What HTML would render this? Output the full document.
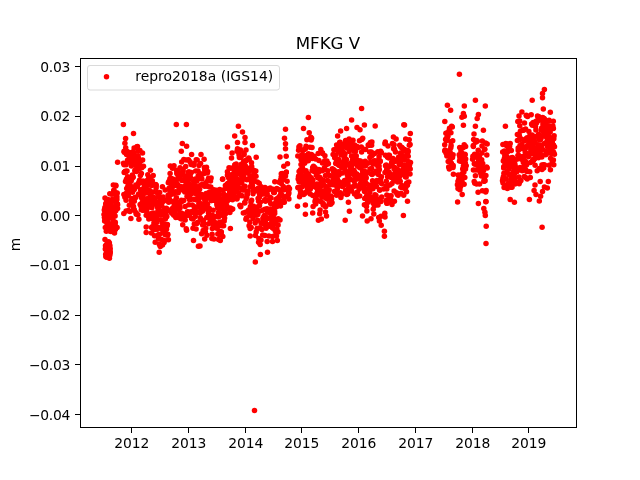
<!DOCTYPE html>
<html><head><meta charset="utf-8"><title>MFKG V</title>
<style>
html,body{margin:0;padding:0;background:#fff;}
svg{display:block;}
text{font-family:"DejaVu Sans","Liberation Sans",sans-serif;fill:#000;}
.tl{font-size:13.89px;}
.ax{stroke:#000;stroke-width:1;shape-rendering:crispEdges;}
</style></head><body>
<svg width="640" height="480" viewBox="0 0 640 480">
<rect width="640" height="480" fill="#fff"/>
<g fill="#ff0000"><circle cx="104.0" cy="214.5" r="2.75"/><circle cx="104.5" cy="217.7" r="2.75"/><circle cx="104.3" cy="210.1" r="2.75"/><circle cx="104.6" cy="217.2" r="2.75"/><circle cx="105.0" cy="198.1" r="2.75"/><circle cx="104.6" cy="221.1" r="2.75"/><circle cx="105.1" cy="211.5" r="2.75"/><circle cx="104.9" cy="207.6" r="2.75"/><circle cx="105.3" cy="227.5" r="2.75"/><circle cx="105.4" cy="210.6" r="2.75"/><circle cx="105.7" cy="203.9" r="2.75"/><circle cx="105.8" cy="218.0" r="2.75"/><circle cx="105.7" cy="220.0" r="2.75"/><circle cx="106.3" cy="202.8" r="2.75"/><circle cx="106.3" cy="231.2" r="2.75"/><circle cx="106.4" cy="217.3" r="2.75"/><circle cx="106.8" cy="200.2" r="2.75"/><circle cx="106.9" cy="222.7" r="2.75"/><circle cx="107.1" cy="229.2" r="2.75"/><circle cx="106.8" cy="212.8" r="2.75"/><circle cx="107.4" cy="219.2" r="2.75"/><circle cx="107.2" cy="215.1" r="2.75"/><circle cx="107.4" cy="230.3" r="2.75"/><circle cx="107.3" cy="225.2" r="2.75"/><circle cx="108.0" cy="199.6" r="2.75"/><circle cx="108.1" cy="215.8" r="2.75"/><circle cx="108.0" cy="217.0" r="2.75"/><circle cx="108.0" cy="222.6" r="2.75"/><circle cx="108.5" cy="225.0" r="2.75"/><circle cx="108.2" cy="227.5" r="2.75"/><circle cx="108.8" cy="212.9" r="2.75"/><circle cx="108.6" cy="208.4" r="2.75"/><circle cx="108.9" cy="204.2" r="2.75"/><circle cx="109.4" cy="228.6" r="2.75"/><circle cx="109.4" cy="212.0" r="2.75"/><circle cx="109.3" cy="230.0" r="2.75"/><circle cx="109.6" cy="210.6" r="2.75"/><circle cx="109.8" cy="226.8" r="2.75"/><circle cx="109.7" cy="230.9" r="2.75"/><circle cx="109.8" cy="193.7" r="2.75"/><circle cx="110.1" cy="217.4" r="2.75"/><circle cx="110.6" cy="205.5" r="2.75"/><circle cx="110.3" cy="214.0" r="2.75"/><circle cx="110.8" cy="224.7" r="2.75"/><circle cx="110.9" cy="231.4" r="2.75"/><circle cx="110.6" cy="206.5" r="2.75"/><circle cx="110.9" cy="201.6" r="2.75"/><circle cx="111.3" cy="205.6" r="2.75"/><circle cx="111.2" cy="210.8" r="2.75"/><circle cx="111.6" cy="224.0" r="2.75"/><circle cx="111.4" cy="215.8" r="2.75"/><circle cx="111.5" cy="231.0" r="2.75"/><circle cx="112.0" cy="194.3" r="2.75"/><circle cx="112.3" cy="228.9" r="2.75"/><circle cx="112.1" cy="212.5" r="2.75"/><circle cx="112.2" cy="199.4" r="2.75"/><circle cx="112.7" cy="217.0" r="2.75"/><circle cx="112.9" cy="200.2" r="2.75"/><circle cx="112.7" cy="218.7" r="2.75"/><circle cx="112.9" cy="210.3" r="2.75"/><circle cx="113.1" cy="221.1" r="2.75"/><circle cx="113.2" cy="226.3" r="2.75"/><circle cx="113.3" cy="185.0" r="2.75"/><circle cx="113.8" cy="190.7" r="2.75"/><circle cx="113.9" cy="190.2" r="2.75"/><circle cx="113.6" cy="192.6" r="2.75"/><circle cx="114.2" cy="200.9" r="2.75"/><circle cx="114.4" cy="206.9" r="2.75"/><circle cx="114.5" cy="233.1" r="2.75"/><circle cx="114.4" cy="214.9" r="2.75"/><circle cx="114.5" cy="210.7" r="2.75"/><circle cx="115.0" cy="225.5" r="2.75"/><circle cx="115.0" cy="224.0" r="2.75"/><circle cx="115.3" cy="222.2" r="2.75"/><circle cx="115.1" cy="215.9" r="2.75"/><circle cx="115.4" cy="229.4" r="2.75"/><circle cx="115.8" cy="185.2" r="2.75"/><circle cx="115.8" cy="210.8" r="2.75"/><circle cx="115.8" cy="202.7" r="2.75"/><circle cx="115.8" cy="185.9" r="2.75"/><circle cx="115.9" cy="196.9" r="2.75"/><circle cx="116.3" cy="202.7" r="2.75"/><circle cx="116.7" cy="193.3" r="2.75"/><circle cx="116.6" cy="203.3" r="2.75"/><circle cx="116.9" cy="196.7" r="2.75"/><circle cx="117.1" cy="227.6" r="2.75"/><circle cx="116.9" cy="199.6" r="2.75"/><circle cx="117.0" cy="204.0" r="2.75"/><circle cx="117.2" cy="193.1" r="2.75"/><circle cx="117.4" cy="204.0" r="2.75"/><circle cx="117.6" cy="204.7" r="2.75"/><circle cx="117.6" cy="208.5" r="2.75"/><circle cx="105.0" cy="239.6" r="2.75"/><circle cx="105.3" cy="249.1" r="2.75"/><circle cx="105.5" cy="245.8" r="2.75"/><circle cx="105.8" cy="248.4" r="2.75"/><circle cx="105.8" cy="249.6" r="2.75"/><circle cx="105.7" cy="254.2" r="2.75"/><circle cx="106.2" cy="247.1" r="2.75"/><circle cx="105.9" cy="256.6" r="2.75"/><circle cx="106.3" cy="257.1" r="2.75"/><circle cx="106.5" cy="254.3" r="2.75"/><circle cx="106.5" cy="244.5" r="2.75"/><circle cx="106.8" cy="255.5" r="2.75"/><circle cx="106.5" cy="247.6" r="2.75"/><circle cx="106.9" cy="257.0" r="2.75"/><circle cx="107.2" cy="247.2" r="2.75"/><circle cx="107.5" cy="250.6" r="2.75"/><circle cx="107.4" cy="251.3" r="2.75"/><circle cx="107.3" cy="244.1" r="2.75"/><circle cx="107.8" cy="248.2" r="2.75"/><circle cx="107.7" cy="253.1" r="2.75"/><circle cx="108.0" cy="250.9" r="2.75"/><circle cx="108.2" cy="248.3" r="2.75"/><circle cx="108.2" cy="253.5" r="2.75"/><circle cx="108.5" cy="248.8" r="2.75"/><circle cx="108.1" cy="252.7" r="2.75"/><circle cx="108.6" cy="241.7" r="2.75"/><circle cx="108.6" cy="250.8" r="2.75"/><circle cx="108.8" cy="245.4" r="2.75"/><circle cx="108.9" cy="248.1" r="2.75"/><circle cx="109.0" cy="250.2" r="2.75"/><circle cx="109.4" cy="258.2" r="2.75"/><circle cx="109.4" cy="242.9" r="2.75"/><circle cx="109.7" cy="254.7" r="2.75"/><circle cx="109.6" cy="255.7" r="2.75"/><circle cx="109.9" cy="245.8" r="2.75"/><circle cx="110.1" cy="253.1" r="2.75"/><circle cx="109.9" cy="252.2" r="2.75"/><circle cx="110.1" cy="251.4" r="2.75"/><circle cx="110.2" cy="248.8" r="2.75"/><circle cx="123.5" cy="163.3" r="2.75"/><circle cx="123.9" cy="194.6" r="2.75"/><circle cx="124.1" cy="164.7" r="2.75"/><circle cx="124.2" cy="172.5" r="2.75"/><circle cx="124.1" cy="151.2" r="2.75"/><circle cx="124.4" cy="152.3" r="2.75"/><circle cx="124.4" cy="152.0" r="2.75"/><circle cx="124.6" cy="171.9" r="2.75"/><circle cx="124.9" cy="143.3" r="2.75"/><circle cx="124.9" cy="197.3" r="2.75"/><circle cx="125.4" cy="171.3" r="2.75"/><circle cx="125.5" cy="172.0" r="2.75"/><circle cx="125.7" cy="147.8" r="2.75"/><circle cx="125.5" cy="181.5" r="2.75"/><circle cx="126.1" cy="200.3" r="2.75"/><circle cx="126.1" cy="164.7" r="2.75"/><circle cx="126.1" cy="211.0" r="2.75"/><circle cx="126.5" cy="192.9" r="2.75"/><circle cx="126.4" cy="179.2" r="2.75"/><circle cx="126.5" cy="154.5" r="2.75"/><circle cx="127.0" cy="170.9" r="2.75"/><circle cx="126.7" cy="188.4" r="2.75"/><circle cx="127.3" cy="151.4" r="2.75"/><circle cx="127.5" cy="160.3" r="2.75"/><circle cx="127.6" cy="176.7" r="2.75"/><circle cx="127.6" cy="187.8" r="2.75"/><circle cx="127.9" cy="160.7" r="2.75"/><circle cx="127.9" cy="186.3" r="2.75"/><circle cx="128.2" cy="195.7" r="2.75"/><circle cx="128.3" cy="193.4" r="2.75"/><circle cx="128.5" cy="210.6" r="2.75"/><circle cx="128.5" cy="183.9" r="2.75"/><circle cx="128.6" cy="161.9" r="2.75"/><circle cx="128.7" cy="160.7" r="2.75"/><circle cx="129.2" cy="156.7" r="2.75"/><circle cx="129.2" cy="182.6" r="2.75"/><circle cx="129.3" cy="205.2" r="2.75"/><circle cx="129.7" cy="184.3" r="2.75"/><circle cx="129.6" cy="179.1" r="2.75"/><circle cx="130.0" cy="160.6" r="2.75"/><circle cx="129.9" cy="211.4" r="2.75"/><circle cx="129.9" cy="152.7" r="2.75"/><circle cx="130.4" cy="160.1" r="2.75"/><circle cx="130.5" cy="177.2" r="2.75"/><circle cx="130.6" cy="191.6" r="2.75"/><circle cx="130.9" cy="186.4" r="2.75"/><circle cx="130.9" cy="218.6" r="2.75"/><circle cx="131.2" cy="180.9" r="2.75"/><circle cx="131.5" cy="200.8" r="2.75"/><circle cx="131.6" cy="154.6" r="2.75"/><circle cx="131.4" cy="166.0" r="2.75"/><circle cx="131.5" cy="163.5" r="2.75"/><circle cx="131.6" cy="202.2" r="2.75"/><circle cx="131.8" cy="178.7" r="2.75"/><circle cx="131.9" cy="198.4" r="2.75"/><circle cx="132.4" cy="175.1" r="2.75"/><circle cx="132.4" cy="152.5" r="2.75"/><circle cx="132.6" cy="151.9" r="2.75"/><circle cx="132.5" cy="192.3" r="2.75"/><circle cx="132.9" cy="177.1" r="2.75"/><circle cx="133.4" cy="206.2" r="2.75"/><circle cx="133.1" cy="177.2" r="2.75"/><circle cx="133.2" cy="156.8" r="2.75"/><circle cx="133.9" cy="152.4" r="2.75"/><circle cx="133.5" cy="207.7" r="2.75"/><circle cx="133.6" cy="210.0" r="2.75"/><circle cx="134.1" cy="148.0" r="2.75"/><circle cx="134.3" cy="189.4" r="2.75"/><circle cx="134.3" cy="201.2" r="2.75"/><circle cx="134.4" cy="210.0" r="2.75"/><circle cx="134.6" cy="161.0" r="2.75"/><circle cx="135.0" cy="170.2" r="2.75"/><circle cx="135.0" cy="171.0" r="2.75"/><circle cx="135.2" cy="197.2" r="2.75"/><circle cx="135.2" cy="187.2" r="2.75"/><circle cx="135.4" cy="197.8" r="2.75"/><circle cx="135.4" cy="155.7" r="2.75"/><circle cx="135.9" cy="165.3" r="2.75"/><circle cx="135.8" cy="184.9" r="2.75"/><circle cx="135.9" cy="159.8" r="2.75"/><circle cx="136.1" cy="212.8" r="2.75"/><circle cx="136.3" cy="214.3" r="2.75"/><circle cx="136.3" cy="171.5" r="2.75"/><circle cx="136.7" cy="170.6" r="2.75"/><circle cx="136.9" cy="146.8" r="2.75"/><circle cx="136.8" cy="167.9" r="2.75"/><circle cx="137.1" cy="170.5" r="2.75"/><circle cx="137.7" cy="161.8" r="2.75"/><circle cx="137.4" cy="186.2" r="2.75"/><circle cx="137.5" cy="146.4" r="2.75"/><circle cx="138.1" cy="155.7" r="2.75"/><circle cx="138.2" cy="150.9" r="2.75"/><circle cx="137.9" cy="214.7" r="2.75"/><circle cx="138.5" cy="194.6" r="2.75"/><circle cx="138.7" cy="182.8" r="2.75"/><circle cx="138.8" cy="194.0" r="2.75"/><circle cx="138.5" cy="158.3" r="2.75"/><circle cx="138.9" cy="219.3" r="2.75"/><circle cx="139.1" cy="182.9" r="2.75"/><circle cx="139.5" cy="180.2" r="2.75"/><circle cx="139.7" cy="166.3" r="2.75"/><circle cx="139.9" cy="150.4" r="2.75"/><circle cx="139.8" cy="182.3" r="2.75"/><circle cx="139.7" cy="168.5" r="2.75"/><circle cx="140.1" cy="204.4" r="2.75"/><circle cx="140.4" cy="161.6" r="2.75"/><circle cx="140.4" cy="175.5" r="2.75"/><circle cx="140.5" cy="189.8" r="2.75"/><circle cx="140.4" cy="165.9" r="2.75"/><circle cx="140.7" cy="182.8" r="2.75"/><circle cx="141.3" cy="209.7" r="2.75"/><circle cx="141.1" cy="206.6" r="2.75"/><circle cx="141.2" cy="197.5" r="2.75"/><circle cx="141.7" cy="195.1" r="2.75"/><circle cx="141.4" cy="173.5" r="2.75"/><circle cx="142.1" cy="194.8" r="2.75"/><circle cx="141.8" cy="167.7" r="2.75"/><circle cx="142.4" cy="207.6" r="2.75"/><circle cx="142.3" cy="202.0" r="2.75"/><circle cx="142.6" cy="160.1" r="2.75"/><circle cx="142.5" cy="153.0" r="2.75"/><circle cx="142.7" cy="189.6" r="2.75"/><circle cx="142.8" cy="194.9" r="2.75"/><circle cx="142.9" cy="210.3" r="2.75"/><circle cx="143.2" cy="210.1" r="2.75"/><circle cx="143.1" cy="180.9" r="2.75"/><circle cx="143.4" cy="192.7" r="2.75"/><circle cx="143.5" cy="166.2" r="2.75"/><circle cx="143.8" cy="193.1" r="2.75"/><circle cx="144.1" cy="198.9" r="2.75"/><circle cx="144.1" cy="187.6" r="2.75"/><circle cx="144.1" cy="189.8" r="2.75"/><circle cx="144.3" cy="203.2" r="2.75"/><circle cx="144.6" cy="185.5" r="2.75"/><circle cx="144.9" cy="198.9" r="2.75"/><circle cx="144.9" cy="209.5" r="2.75"/><circle cx="145.2" cy="207.7" r="2.75"/><circle cx="145.0" cy="206.0" r="2.75"/><circle cx="145.4" cy="182.2" r="2.75"/><circle cx="145.5" cy="201.0" r="2.75"/><circle cx="146.0" cy="207.3" r="2.75"/><circle cx="145.8" cy="193.0" r="2.75"/><circle cx="146.2" cy="215.3" r="2.75"/><circle cx="146.5" cy="199.4" r="2.75"/><circle cx="146.4" cy="209.3" r="2.75"/><circle cx="146.6" cy="182.1" r="2.75"/><circle cx="146.8" cy="185.8" r="2.75"/><circle cx="146.6" cy="211.1" r="2.75"/><circle cx="147.2" cy="199.9" r="2.75"/><circle cx="147.0" cy="208.6" r="2.75"/><circle cx="147.4" cy="202.0" r="2.75"/><circle cx="147.4" cy="180.3" r="2.75"/><circle cx="147.8" cy="198.4" r="2.75"/><circle cx="147.8" cy="174.8" r="2.75"/><circle cx="147.9" cy="190.5" r="2.75"/><circle cx="148.4" cy="215.6" r="2.75"/><circle cx="148.5" cy="204.7" r="2.75"/><circle cx="148.4" cy="216.2" r="2.75"/><circle cx="148.8" cy="178.1" r="2.75"/><circle cx="148.8" cy="219.1" r="2.75"/><circle cx="149.2" cy="189.9" r="2.75"/><circle cx="149.3" cy="178.8" r="2.75"/><circle cx="149.1" cy="199.8" r="2.75"/><circle cx="149.6" cy="206.8" r="2.75"/><circle cx="149.8" cy="199.9" r="2.75"/><circle cx="149.6" cy="184.8" r="2.75"/><circle cx="150.1" cy="191.6" r="2.75"/><circle cx="150.1" cy="177.5" r="2.75"/><circle cx="150.4" cy="195.5" r="2.75"/><circle cx="150.6" cy="195.3" r="2.75"/><circle cx="150.7" cy="213.8" r="2.75"/><circle cx="150.9" cy="194.6" r="2.75"/><circle cx="150.6" cy="216.0" r="2.75"/><circle cx="151.0" cy="181.2" r="2.75"/><circle cx="151.4" cy="232.9" r="2.75"/><circle cx="151.5" cy="181.8" r="2.75"/><circle cx="151.5" cy="227.4" r="2.75"/><circle cx="151.4" cy="199.2" r="2.75"/><circle cx="151.9" cy="205.2" r="2.75"/><circle cx="151.8" cy="185.4" r="2.75"/><circle cx="151.8" cy="207.7" r="2.75"/><circle cx="152.3" cy="200.5" r="2.75"/><circle cx="152.3" cy="226.8" r="2.75"/><circle cx="152.3" cy="180.8" r="2.75"/><circle cx="152.7" cy="204.6" r="2.75"/><circle cx="152.8" cy="218.8" r="2.75"/><circle cx="152.9" cy="202.4" r="2.75"/><circle cx="153.0" cy="191.9" r="2.75"/><circle cx="153.5" cy="229.8" r="2.75"/><circle cx="153.4" cy="213.0" r="2.75"/><circle cx="153.9" cy="218.8" r="2.75"/><circle cx="154.0" cy="198.4" r="2.75"/><circle cx="154.1" cy="197.4" r="2.75"/><circle cx="153.9" cy="223.0" r="2.75"/><circle cx="154.4" cy="199.9" r="2.75"/><circle cx="154.5" cy="235.7" r="2.75"/><circle cx="154.4" cy="214.0" r="2.75"/><circle cx="154.7" cy="227.3" r="2.75"/><circle cx="155.2" cy="242.2" r="2.75"/><circle cx="154.9" cy="229.6" r="2.75"/><circle cx="155.2" cy="200.8" r="2.75"/><circle cx="155.5" cy="215.9" r="2.75"/><circle cx="155.6" cy="184.5" r="2.75"/><circle cx="155.7" cy="216.4" r="2.75"/><circle cx="156.0" cy="185.8" r="2.75"/><circle cx="156.1" cy="188.1" r="2.75"/><circle cx="156.1" cy="185.1" r="2.75"/><circle cx="156.2" cy="202.6" r="2.75"/><circle cx="156.7" cy="192.6" r="2.75"/><circle cx="156.5" cy="222.4" r="2.75"/><circle cx="156.7" cy="216.4" r="2.75"/><circle cx="157.2" cy="206.8" r="2.75"/><circle cx="157.0" cy="219.1" r="2.75"/><circle cx="157.2" cy="203.9" r="2.75"/><circle cx="157.4" cy="229.3" r="2.75"/><circle cx="157.7" cy="227.2" r="2.75"/><circle cx="157.9" cy="210.7" r="2.75"/><circle cx="157.8" cy="214.9" r="2.75"/><circle cx="158.3" cy="207.2" r="2.75"/><circle cx="158.4" cy="238.7" r="2.75"/><circle cx="158.3" cy="234.8" r="2.75"/><circle cx="158.4" cy="196.8" r="2.75"/><circle cx="158.7" cy="209.1" r="2.75"/><circle cx="159.2" cy="244.0" r="2.75"/><circle cx="159.0" cy="196.2" r="2.75"/><circle cx="159.4" cy="234.5" r="2.75"/><circle cx="159.2" cy="252.3" r="2.75"/><circle cx="159.4" cy="205.3" r="2.75"/><circle cx="159.9" cy="200.2" r="2.75"/><circle cx="159.9" cy="204.5" r="2.75"/><circle cx="159.7" cy="192.4" r="2.75"/><circle cx="160.1" cy="245.3" r="2.75"/><circle cx="160.3" cy="212.0" r="2.75"/><circle cx="160.3" cy="246.6" r="2.75"/><circle cx="160.6" cy="227.8" r="2.75"/><circle cx="160.9" cy="219.8" r="2.75"/><circle cx="161.0" cy="201.4" r="2.75"/><circle cx="161.1" cy="211.9" r="2.75"/><circle cx="161.1" cy="198.6" r="2.75"/><circle cx="161.5" cy="200.0" r="2.75"/><circle cx="161.4" cy="214.4" r="2.75"/><circle cx="161.6" cy="239.4" r="2.75"/><circle cx="162.0" cy="222.8" r="2.75"/><circle cx="161.9" cy="206.1" r="2.75"/><circle cx="161.9" cy="212.2" r="2.75"/><circle cx="162.4" cy="229.8" r="2.75"/><circle cx="162.7" cy="226.9" r="2.75"/><circle cx="162.4" cy="186.8" r="2.75"/><circle cx="162.5" cy="244.9" r="2.75"/><circle cx="162.7" cy="211.0" r="2.75"/><circle cx="163.1" cy="197.1" r="2.75"/><circle cx="163.4" cy="232.2" r="2.75"/><circle cx="163.2" cy="201.4" r="2.75"/><circle cx="163.5" cy="212.7" r="2.75"/><circle cx="163.5" cy="225.3" r="2.75"/><circle cx="163.8" cy="215.3" r="2.75"/><circle cx="164.3" cy="240.6" r="2.75"/><circle cx="164.1" cy="242.4" r="2.75"/><circle cx="164.6" cy="230.8" r="2.75"/><circle cx="164.4" cy="224.1" r="2.75"/><circle cx="164.9" cy="234.4" r="2.75"/><circle cx="164.8" cy="209.8" r="2.75"/><circle cx="165.2" cy="232.8" r="2.75"/><circle cx="164.9" cy="208.8" r="2.75"/><circle cx="165.2" cy="190.0" r="2.75"/><circle cx="165.3" cy="218.9" r="2.75"/><circle cx="165.7" cy="215.4" r="2.75"/><circle cx="165.8" cy="217.4" r="2.75"/><circle cx="165.9" cy="208.7" r="2.75"/><circle cx="166.0" cy="213.0" r="2.75"/><circle cx="166.4" cy="208.3" r="2.75"/><circle cx="166.4" cy="235.0" r="2.75"/><circle cx="166.8" cy="216.4" r="2.75"/><circle cx="166.5" cy="229.2" r="2.75"/><circle cx="166.7" cy="200.2" r="2.75"/><circle cx="167.2" cy="225.7" r="2.75"/><circle cx="167.4" cy="224.6" r="2.75"/><circle cx="167.4" cy="200.5" r="2.75"/><circle cx="167.6" cy="234.9" r="2.75"/><circle cx="167.8" cy="234.3" r="2.75"/><circle cx="168.1" cy="195.3" r="2.75"/><circle cx="168.0" cy="210.6" r="2.75"/><circle cx="168.1" cy="198.3" r="2.75"/><circle cx="168.3" cy="182.8" r="2.75"/><circle cx="168.4" cy="239.7" r="2.75"/><circle cx="168.9" cy="181.5" r="2.75"/><circle cx="168.7" cy="202.2" r="2.75"/><circle cx="169.1" cy="196.4" r="2.75"/><circle cx="169.1" cy="188.3" r="2.75"/><circle cx="169.5" cy="199.6" r="2.75"/><circle cx="169.7" cy="189.1" r="2.75"/><circle cx="169.7" cy="194.8" r="2.75"/><circle cx="169.9" cy="178.7" r="2.75"/><circle cx="170.1" cy="190.8" r="2.75"/><circle cx="170.1" cy="173.6" r="2.75"/><circle cx="170.2" cy="210.0" r="2.75"/><circle cx="170.3" cy="192.2" r="2.75"/><circle cx="170.4" cy="181.8" r="2.75"/><circle cx="170.7" cy="178.3" r="2.75"/><circle cx="170.9" cy="186.9" r="2.75"/><circle cx="171.0" cy="178.8" r="2.75"/><circle cx="171.4" cy="179.1" r="2.75"/><circle cx="171.4" cy="201.2" r="2.75"/><circle cx="171.5" cy="194.2" r="2.75"/><circle cx="171.6" cy="212.9" r="2.75"/><circle cx="172.0" cy="187.4" r="2.75"/><circle cx="171.7" cy="188.7" r="2.75"/><circle cx="171.9" cy="181.7" r="2.75"/><circle cx="172.5" cy="168.2" r="2.75"/><circle cx="172.6" cy="208.2" r="2.75"/><circle cx="172.7" cy="180.9" r="2.75"/><circle cx="172.7" cy="185.5" r="2.75"/><circle cx="172.8" cy="179.0" r="2.75"/><circle cx="173.0" cy="211.0" r="2.75"/><circle cx="173.5" cy="180.7" r="2.75"/><circle cx="173.1" cy="213.9" r="2.75"/><circle cx="173.8" cy="215.2" r="2.75"/><circle cx="173.7" cy="193.8" r="2.75"/><circle cx="173.7" cy="182.7" r="2.75"/><circle cx="174.3" cy="210.5" r="2.75"/><circle cx="174.0" cy="165.8" r="2.75"/><circle cx="174.4" cy="204.1" r="2.75"/><circle cx="174.3" cy="205.5" r="2.75"/><circle cx="174.9" cy="184.3" r="2.75"/><circle cx="174.8" cy="183.4" r="2.75"/><circle cx="175.1" cy="185.5" r="2.75"/><circle cx="175.0" cy="212.9" r="2.75"/><circle cx="175.4" cy="191.8" r="2.75"/><circle cx="175.4" cy="207.1" r="2.75"/><circle cx="175.8" cy="217.5" r="2.75"/><circle cx="175.7" cy="184.8" r="2.75"/><circle cx="175.7" cy="199.9" r="2.75"/><circle cx="176.3" cy="179.9" r="2.75"/><circle cx="176.2" cy="206.5" r="2.75"/><circle cx="176.1" cy="182.5" r="2.75"/><circle cx="176.4" cy="197.7" r="2.75"/><circle cx="176.6" cy="170.3" r="2.75"/><circle cx="176.8" cy="173.5" r="2.75"/><circle cx="177.1" cy="171.7" r="2.75"/><circle cx="177.2" cy="202.9" r="2.75"/><circle cx="177.6" cy="191.8" r="2.75"/><circle cx="177.2" cy="204.1" r="2.75"/><circle cx="177.8" cy="174.0" r="2.75"/><circle cx="177.6" cy="184.6" r="2.75"/><circle cx="178.1" cy="177.2" r="2.75"/><circle cx="178.2" cy="192.7" r="2.75"/><circle cx="178.5" cy="217.4" r="2.75"/><circle cx="178.6" cy="172.2" r="2.75"/><circle cx="178.3" cy="207.8" r="2.75"/><circle cx="178.6" cy="209.6" r="2.75"/><circle cx="178.9" cy="177.0" r="2.75"/><circle cx="178.9" cy="187.4" r="2.75"/><circle cx="179.4" cy="186.3" r="2.75"/><circle cx="179.2" cy="214.3" r="2.75"/><circle cx="179.6" cy="178.6" r="2.75"/><circle cx="179.8" cy="204.8" r="2.75"/><circle cx="180.1" cy="207.8" r="2.75"/><circle cx="179.8" cy="173.9" r="2.75"/><circle cx="180.1" cy="167.8" r="2.75"/><circle cx="180.4" cy="201.7" r="2.75"/><circle cx="180.7" cy="187.5" r="2.75"/><circle cx="180.7" cy="176.1" r="2.75"/><circle cx="181.0" cy="187.3" r="2.75"/><circle cx="180.8" cy="186.8" r="2.75"/><circle cx="180.8" cy="218.7" r="2.75"/><circle cx="181.4" cy="200.3" r="2.75"/><circle cx="181.2" cy="212.9" r="2.75"/><circle cx="181.9" cy="189.1" r="2.75"/><circle cx="181.9" cy="180.4" r="2.75"/><circle cx="181.7" cy="162.1" r="2.75"/><circle cx="181.8" cy="201.5" r="2.75"/><circle cx="182.3" cy="219.0" r="2.75"/><circle cx="182.5" cy="189.9" r="2.75"/><circle cx="182.3" cy="216.0" r="2.75"/><circle cx="182.9" cy="173.4" r="2.75"/><circle cx="182.7" cy="224.8" r="2.75"/><circle cx="183.0" cy="169.5" r="2.75"/><circle cx="183.5" cy="213.9" r="2.75"/><circle cx="183.1" cy="171.2" r="2.75"/><circle cx="183.7" cy="188.7" r="2.75"/><circle cx="183.8" cy="159.4" r="2.75"/><circle cx="183.6" cy="216.0" r="2.75"/><circle cx="183.7" cy="200.6" r="2.75"/><circle cx="184.2" cy="190.2" r="2.75"/><circle cx="184.4" cy="216.5" r="2.75"/><circle cx="184.2" cy="186.5" r="2.75"/><circle cx="184.5" cy="180.8" r="2.75"/><circle cx="184.8" cy="191.9" r="2.75"/><circle cx="185.2" cy="220.1" r="2.75"/><circle cx="185.2" cy="206.5" r="2.75"/><circle cx="185.0" cy="190.1" r="2.75"/><circle cx="185.6" cy="215.8" r="2.75"/><circle cx="185.3" cy="177.1" r="2.75"/><circle cx="185.7" cy="166.4" r="2.75"/><circle cx="185.6" cy="191.0" r="2.75"/><circle cx="186.2" cy="228.7" r="2.75"/><circle cx="186.3" cy="183.2" r="2.75"/><circle cx="186.4" cy="188.4" r="2.75"/><circle cx="186.3" cy="160.0" r="2.75"/><circle cx="186.9" cy="175.7" r="2.75"/><circle cx="186.6" cy="230.3" r="2.75"/><circle cx="186.8" cy="179.2" r="2.75"/><circle cx="187.0" cy="196.6" r="2.75"/><circle cx="187.5" cy="189.2" r="2.75"/><circle cx="187.6" cy="215.3" r="2.75"/><circle cx="187.7" cy="186.2" r="2.75"/><circle cx="187.5" cy="211.7" r="2.75"/><circle cx="187.8" cy="195.9" r="2.75"/><circle cx="188.3" cy="182.3" r="2.75"/><circle cx="188.2" cy="192.0" r="2.75"/><circle cx="188.5" cy="159.8" r="2.75"/><circle cx="188.8" cy="204.7" r="2.75"/><circle cx="188.5" cy="171.9" r="2.75"/><circle cx="189.1" cy="171.9" r="2.75"/><circle cx="189.2" cy="215.3" r="2.75"/><circle cx="189.0" cy="212.1" r="2.75"/><circle cx="189.2" cy="197.2" r="2.75"/><circle cx="189.7" cy="178.6" r="2.75"/><circle cx="189.4" cy="199.5" r="2.75"/><circle cx="190.0" cy="161.7" r="2.75"/><circle cx="189.8" cy="177.4" r="2.75"/><circle cx="190.1" cy="192.2" r="2.75"/><circle cx="190.3" cy="173.9" r="2.75"/><circle cx="190.4" cy="185.8" r="2.75"/><circle cx="190.3" cy="177.3" r="2.75"/><circle cx="190.9" cy="194.2" r="2.75"/><circle cx="190.7" cy="199.5" r="2.75"/><circle cx="191.1" cy="164.5" r="2.75"/><circle cx="191.3" cy="172.6" r="2.75"/><circle cx="191.6" cy="187.1" r="2.75"/><circle cx="191.6" cy="154.5" r="2.75"/><circle cx="191.4" cy="212.1" r="2.75"/><circle cx="191.6" cy="218.4" r="2.75"/><circle cx="192.1" cy="212.6" r="2.75"/><circle cx="192.3" cy="205.0" r="2.75"/><circle cx="192.1" cy="212.4" r="2.75"/><circle cx="192.2" cy="190.1" r="2.75"/><circle cx="192.6" cy="211.2" r="2.75"/><circle cx="192.6" cy="193.0" r="2.75"/><circle cx="193.2" cy="185.1" r="2.75"/><circle cx="193.1" cy="219.0" r="2.75"/><circle cx="193.0" cy="228.2" r="2.75"/><circle cx="193.5" cy="188.2" r="2.75"/><circle cx="193.7" cy="165.3" r="2.75"/><circle cx="193.6" cy="181.4" r="2.75"/><circle cx="194.0" cy="199.3" r="2.75"/><circle cx="194.1" cy="163.6" r="2.75"/><circle cx="194.3" cy="224.0" r="2.75"/><circle cx="194.4" cy="212.7" r="2.75"/><circle cx="194.8" cy="206.7" r="2.75"/><circle cx="194.8" cy="185.8" r="2.75"/><circle cx="194.6" cy="209.5" r="2.75"/><circle cx="195.2" cy="208.3" r="2.75"/><circle cx="195.3" cy="216.4" r="2.75"/><circle cx="195.2" cy="179.0" r="2.75"/><circle cx="195.7" cy="171.0" r="2.75"/><circle cx="195.5" cy="213.0" r="2.75"/><circle cx="195.8" cy="199.8" r="2.75"/><circle cx="196.1" cy="229.1" r="2.75"/><circle cx="196.3" cy="194.1" r="2.75"/><circle cx="196.2" cy="159.8" r="2.75"/><circle cx="196.6" cy="181.2" r="2.75"/><circle cx="196.9" cy="223.4" r="2.75"/><circle cx="197.1" cy="186.7" r="2.75"/><circle cx="196.9" cy="191.3" r="2.75"/><circle cx="197.2" cy="159.9" r="2.75"/><circle cx="197.1" cy="188.2" r="2.75"/><circle cx="197.4" cy="212.3" r="2.75"/><circle cx="197.5" cy="187.2" r="2.75"/><circle cx="197.9" cy="207.1" r="2.75"/><circle cx="198.1" cy="176.1" r="2.75"/><circle cx="197.9" cy="222.2" r="2.75"/><circle cx="198.0" cy="171.1" r="2.75"/><circle cx="198.1" cy="196.2" r="2.75"/><circle cx="198.6" cy="191.0" r="2.75"/><circle cx="198.7" cy="199.7" r="2.75"/><circle cx="199.0" cy="165.4" r="2.75"/><circle cx="198.9" cy="203.6" r="2.75"/><circle cx="199.0" cy="178.8" r="2.75"/><circle cx="199.5" cy="203.0" r="2.75"/><circle cx="199.6" cy="194.8" r="2.75"/><circle cx="199.8" cy="173.5" r="2.75"/><circle cx="199.9" cy="213.3" r="2.75"/><circle cx="199.6" cy="189.3" r="2.75"/><circle cx="199.9" cy="196.4" r="2.75"/><circle cx="200.3" cy="217.9" r="2.75"/><circle cx="200.6" cy="163.4" r="2.75"/><circle cx="200.7" cy="211.2" r="2.75"/><circle cx="200.7" cy="184.9" r="2.75"/><circle cx="200.6" cy="196.1" r="2.75"/><circle cx="201.2" cy="205.5" r="2.75"/><circle cx="201.0" cy="154.5" r="2.75"/><circle cx="201.1" cy="209.6" r="2.75"/><circle cx="201.6" cy="233.7" r="2.75"/><circle cx="201.5" cy="204.2" r="2.75"/><circle cx="201.9" cy="178.9" r="2.75"/><circle cx="201.9" cy="174.5" r="2.75"/><circle cx="201.8" cy="194.4" r="2.75"/><circle cx="202.4" cy="184.5" r="2.75"/><circle cx="202.7" cy="225.0" r="2.75"/><circle cx="202.4" cy="211.2" r="2.75"/><circle cx="202.6" cy="205.4" r="2.75"/><circle cx="202.7" cy="220.8" r="2.75"/><circle cx="203.1" cy="197.5" r="2.75"/><circle cx="203.5" cy="223.7" r="2.75"/><circle cx="203.2" cy="230.4" r="2.75"/><circle cx="203.4" cy="220.3" r="2.75"/><circle cx="203.8" cy="223.7" r="2.75"/><circle cx="204.1" cy="173.6" r="2.75"/><circle cx="204.1" cy="159.2" r="2.75"/><circle cx="204.2" cy="206.7" r="2.75"/><circle cx="204.5" cy="186.3" r="2.75"/><circle cx="204.7" cy="239.0" r="2.75"/><circle cx="204.4" cy="167.6" r="2.75"/><circle cx="204.8" cy="200.4" r="2.75"/><circle cx="204.7" cy="169.9" r="2.75"/><circle cx="205.4" cy="196.4" r="2.75"/><circle cx="205.6" cy="202.0" r="2.75"/><circle cx="205.4" cy="232.1" r="2.75"/><circle cx="205.8" cy="168.9" r="2.75"/><circle cx="205.6" cy="185.8" r="2.75"/><circle cx="205.8" cy="182.8" r="2.75"/><circle cx="205.8" cy="228.3" r="2.75"/><circle cx="206.4" cy="208.7" r="2.75"/><circle cx="206.1" cy="193.5" r="2.75"/><circle cx="206.8" cy="217.5" r="2.75"/><circle cx="206.5" cy="167.2" r="2.75"/><circle cx="206.9" cy="198.6" r="2.75"/><circle cx="207.3" cy="186.3" r="2.75"/><circle cx="207.3" cy="172.9" r="2.75"/><circle cx="207.6" cy="204.1" r="2.75"/><circle cx="207.7" cy="171.6" r="2.75"/><circle cx="207.9" cy="209.9" r="2.75"/><circle cx="207.7" cy="197.2" r="2.75"/><circle cx="207.7" cy="180.7" r="2.75"/><circle cx="208.0" cy="207.9" r="2.75"/><circle cx="208.5" cy="178.3" r="2.75"/><circle cx="208.5" cy="223.8" r="2.75"/><circle cx="208.4" cy="212.8" r="2.75"/><circle cx="208.9" cy="192.4" r="2.75"/><circle cx="209.0" cy="215.1" r="2.75"/><circle cx="209.1" cy="210.2" r="2.75"/><circle cx="209.4" cy="187.0" r="2.75"/><circle cx="209.3" cy="208.5" r="2.75"/><circle cx="209.4" cy="214.6" r="2.75"/><circle cx="209.9" cy="218.8" r="2.75"/><circle cx="210.1" cy="197.4" r="2.75"/><circle cx="209.8" cy="217.0" r="2.75"/><circle cx="210.3" cy="192.7" r="2.75"/><circle cx="210.3" cy="219.8" r="2.75"/><circle cx="210.4" cy="197.2" r="2.75"/><circle cx="210.8" cy="186.9" r="2.75"/><circle cx="210.5" cy="180.9" r="2.75"/><circle cx="210.8" cy="218.3" r="2.75"/><circle cx="210.8" cy="219.0" r="2.75"/><circle cx="211.1" cy="178.0" r="2.75"/><circle cx="211.3" cy="200.4" r="2.75"/><circle cx="211.8" cy="200.6" r="2.75"/><circle cx="211.9" cy="238.6" r="2.75"/><circle cx="211.8" cy="218.3" r="2.75"/><circle cx="212.3" cy="228.4" r="2.75"/><circle cx="212.3" cy="223.6" r="2.75"/><circle cx="212.1" cy="234.3" r="2.75"/><circle cx="212.7" cy="215.4" r="2.75"/><circle cx="212.6" cy="216.2" r="2.75"/><circle cx="213.1" cy="200.3" r="2.75"/><circle cx="213.1" cy="189.7" r="2.75"/><circle cx="213.1" cy="210.3" r="2.75"/><circle cx="213.2" cy="196.7" r="2.75"/><circle cx="213.6" cy="194.9" r="2.75"/><circle cx="213.9" cy="192.5" r="2.75"/><circle cx="213.7" cy="217.5" r="2.75"/><circle cx="214.0" cy="238.9" r="2.75"/><circle cx="214.4" cy="216.8" r="2.75"/><circle cx="214.3" cy="190.1" r="2.75"/><circle cx="214.6" cy="225.1" r="2.75"/><circle cx="214.7" cy="222.3" r="2.75"/><circle cx="215.0" cy="226.8" r="2.75"/><circle cx="214.8" cy="226.0" r="2.75"/><circle cx="215.0" cy="193.7" r="2.75"/><circle cx="215.4" cy="195.2" r="2.75"/><circle cx="215.4" cy="227.3" r="2.75"/><circle cx="215.4" cy="216.7" r="2.75"/><circle cx="215.6" cy="195.0" r="2.75"/><circle cx="215.7" cy="199.9" r="2.75"/><circle cx="215.9" cy="200.8" r="2.75"/><circle cx="215.9" cy="195.4" r="2.75"/><circle cx="216.6" cy="199.5" r="2.75"/><circle cx="216.5" cy="190.3" r="2.75"/><circle cx="216.7" cy="228.3" r="2.75"/><circle cx="217.1" cy="204.1" r="2.75"/><circle cx="217.1" cy="203.5" r="2.75"/><circle cx="217.1" cy="205.5" r="2.75"/><circle cx="217.2" cy="191.4" r="2.75"/><circle cx="217.6" cy="207.9" r="2.75"/><circle cx="217.8" cy="233.9" r="2.75"/><circle cx="217.8" cy="195.1" r="2.75"/><circle cx="217.8" cy="203.7" r="2.75"/><circle cx="218.1" cy="226.5" r="2.75"/><circle cx="218.5" cy="216.9" r="2.75"/><circle cx="218.6" cy="213.7" r="2.75"/><circle cx="218.4" cy="212.4" r="2.75"/><circle cx="219.0" cy="222.8" r="2.75"/><circle cx="218.9" cy="224.6" r="2.75"/><circle cx="219.0" cy="233.3" r="2.75"/><circle cx="219.4" cy="203.4" r="2.75"/><circle cx="219.3" cy="223.1" r="2.75"/><circle cx="219.7" cy="231.6" r="2.75"/><circle cx="219.7" cy="189.4" r="2.75"/><circle cx="219.9" cy="198.7" r="2.75"/><circle cx="220.2" cy="194.5" r="2.75"/><circle cx="220.2" cy="200.8" r="2.75"/><circle cx="220.4" cy="214.7" r="2.75"/><circle cx="220.1" cy="199.5" r="2.75"/><circle cx="220.9" cy="233.6" r="2.75"/><circle cx="221.0" cy="232.1" r="2.75"/><circle cx="220.9" cy="234.7" r="2.75"/><circle cx="221.1" cy="224.1" r="2.75"/><circle cx="221.2" cy="221.9" r="2.75"/><circle cx="221.5" cy="208.8" r="2.75"/><circle cx="221.3" cy="232.1" r="2.75"/><circle cx="221.7" cy="203.7" r="2.75"/><circle cx="222.0" cy="205.6" r="2.75"/><circle cx="221.8" cy="206.1" r="2.75"/><circle cx="221.9" cy="225.7" r="2.75"/><circle cx="222.5" cy="179.3" r="2.75"/><circle cx="222.7" cy="201.2" r="2.75"/><circle cx="222.7" cy="202.4" r="2.75"/><circle cx="222.7" cy="178.9" r="2.75"/><circle cx="222.8" cy="236.5" r="2.75"/><circle cx="223.2" cy="189.9" r="2.75"/><circle cx="223.4" cy="215.9" r="2.75"/><circle cx="223.6" cy="225.8" r="2.75"/><circle cx="223.5" cy="209.8" r="2.75"/><circle cx="223.7" cy="213.5" r="2.75"/><circle cx="223.9" cy="194.3" r="2.75"/><circle cx="223.9" cy="212.6" r="2.75"/><circle cx="224.2" cy="210.5" r="2.75"/><circle cx="224.3" cy="196.9" r="2.75"/><circle cx="224.2" cy="220.9" r="2.75"/><circle cx="224.6" cy="218.1" r="2.75"/><circle cx="225.0" cy="195.8" r="2.75"/><circle cx="224.7" cy="204.0" r="2.75"/><circle cx="225.4" cy="185.5" r="2.75"/><circle cx="225.4" cy="202.2" r="2.75"/><circle cx="225.4" cy="200.6" r="2.75"/><circle cx="225.9" cy="195.7" r="2.75"/><circle cx="225.8" cy="213.6" r="2.75"/><circle cx="226.0" cy="203.9" r="2.75"/><circle cx="225.8" cy="188.6" r="2.75"/><circle cx="226.0" cy="197.6" r="2.75"/><circle cx="226.5" cy="209.0" r="2.75"/><circle cx="226.4" cy="198.7" r="2.75"/><circle cx="226.7" cy="196.3" r="2.75"/><circle cx="227.2" cy="184.0" r="2.75"/><circle cx="226.9" cy="206.3" r="2.75"/><circle cx="227.5" cy="175.4" r="2.75"/><circle cx="227.2" cy="201.3" r="2.75"/><circle cx="227.4" cy="171.8" r="2.75"/><circle cx="227.7" cy="185.0" r="2.75"/><circle cx="227.6" cy="174.4" r="2.75"/><circle cx="227.9" cy="208.0" r="2.75"/><circle cx="228.4" cy="197.0" r="2.75"/><circle cx="228.2" cy="183.3" r="2.75"/><circle cx="228.6" cy="177.8" r="2.75"/><circle cx="228.5" cy="175.2" r="2.75"/><circle cx="229.0" cy="185.9" r="2.75"/><circle cx="228.8" cy="199.5" r="2.75"/><circle cx="229.4" cy="208.9" r="2.75"/><circle cx="229.0" cy="167.8" r="2.75"/><circle cx="229.7" cy="192.0" r="2.75"/><circle cx="229.6" cy="188.7" r="2.75"/><circle cx="229.6" cy="178.9" r="2.75"/><circle cx="229.9" cy="212.4" r="2.75"/><circle cx="230.2" cy="175.8" r="2.75"/><circle cx="230.0" cy="193.6" r="2.75"/><circle cx="230.3" cy="183.9" r="2.75"/><circle cx="230.5" cy="208.1" r="2.75"/><circle cx="230.7" cy="191.9" r="2.75"/><circle cx="230.8" cy="168.2" r="2.75"/><circle cx="231.3" cy="174.7" r="2.75"/><circle cx="231.2" cy="198.5" r="2.75"/><circle cx="231.2" cy="199.3" r="2.75"/><circle cx="231.5" cy="158.1" r="2.75"/><circle cx="231.6" cy="182.7" r="2.75"/><circle cx="231.7" cy="209.4" r="2.75"/><circle cx="232.1" cy="178.2" r="2.75"/><circle cx="232.1" cy="153.1" r="2.75"/><circle cx="232.5" cy="185.7" r="2.75"/><circle cx="232.5" cy="199.8" r="2.75"/><circle cx="232.9" cy="182.3" r="2.75"/><circle cx="232.7" cy="209.0" r="2.75"/><circle cx="232.7" cy="176.7" r="2.75"/><circle cx="232.8" cy="168.1" r="2.75"/><circle cx="233.4" cy="181.5" r="2.75"/><circle cx="233.2" cy="174.5" r="2.75"/><circle cx="233.4" cy="195.7" r="2.75"/><circle cx="233.9" cy="181.2" r="2.75"/><circle cx="233.8" cy="175.3" r="2.75"/><circle cx="233.8" cy="187.1" r="2.75"/><circle cx="234.1" cy="188.9" r="2.75"/><circle cx="234.4" cy="171.7" r="2.75"/><circle cx="234.5" cy="171.3" r="2.75"/><circle cx="234.8" cy="165.1" r="2.75"/><circle cx="235.1" cy="164.8" r="2.75"/><circle cx="234.8" cy="192.2" r="2.75"/><circle cx="235.3" cy="168.7" r="2.75"/><circle cx="235.3" cy="168.1" r="2.75"/><circle cx="235.7" cy="166.0" r="2.75"/><circle cx="235.9" cy="189.4" r="2.75"/><circle cx="235.9" cy="181.3" r="2.75"/><circle cx="235.6" cy="177.5" r="2.75"/><circle cx="236.0" cy="178.4" r="2.75"/><circle cx="235.9" cy="196.9" r="2.75"/><circle cx="236.2" cy="164.0" r="2.75"/><circle cx="236.7" cy="182.8" r="2.75"/><circle cx="237.0" cy="151.3" r="2.75"/><circle cx="237.1" cy="198.0" r="2.75"/><circle cx="236.9" cy="199.0" r="2.75"/><circle cx="237.2" cy="189.1" r="2.75"/><circle cx="237.6" cy="179.5" r="2.75"/><circle cx="237.4" cy="187.1" r="2.75"/><circle cx="237.6" cy="187.7" r="2.75"/><circle cx="237.9" cy="185.5" r="2.75"/><circle cx="237.8" cy="173.5" r="2.75"/><circle cx="237.9" cy="173.7" r="2.75"/><circle cx="238.4" cy="187.5" r="2.75"/><circle cx="238.4" cy="192.7" r="2.75"/><circle cx="238.7" cy="182.4" r="2.75"/><circle cx="238.7" cy="170.9" r="2.75"/><circle cx="238.6" cy="181.4" r="2.75"/><circle cx="239.0" cy="154.7" r="2.75"/><circle cx="239.1" cy="151.6" r="2.75"/><circle cx="239.4" cy="157.6" r="2.75"/><circle cx="239.3" cy="167.8" r="2.75"/><circle cx="239.7" cy="180.2" r="2.75"/><circle cx="239.7" cy="181.9" r="2.75"/><circle cx="239.9" cy="205.2" r="2.75"/><circle cx="240.4" cy="149.9" r="2.75"/><circle cx="240.6" cy="205.8" r="2.75"/><circle cx="240.7" cy="195.6" r="2.75"/><circle cx="240.7" cy="206.8" r="2.75"/><circle cx="241.1" cy="157.4" r="2.75"/><circle cx="240.9" cy="172.6" r="2.75"/><circle cx="241.3" cy="164.2" r="2.75"/><circle cx="241.1" cy="180.7" r="2.75"/><circle cx="241.2" cy="174.8" r="2.75"/><circle cx="241.3" cy="175.7" r="2.75"/><circle cx="241.5" cy="169.8" r="2.75"/><circle cx="241.8" cy="183.1" r="2.75"/><circle cx="242.0" cy="190.0" r="2.75"/><circle cx="242.0" cy="195.8" r="2.75"/><circle cx="242.6" cy="165.5" r="2.75"/><circle cx="242.7" cy="179.2" r="2.75"/><circle cx="242.6" cy="171.8" r="2.75"/><circle cx="242.7" cy="170.8" r="2.75"/><circle cx="243.2" cy="189.4" r="2.75"/><circle cx="243.3" cy="212.9" r="2.75"/><circle cx="243.5" cy="187.4" r="2.75"/><circle cx="243.8" cy="153.1" r="2.75"/><circle cx="243.4" cy="175.4" r="2.75"/><circle cx="243.6" cy="161.7" r="2.75"/><circle cx="243.9" cy="168.6" r="2.75"/><circle cx="244.1" cy="154.4" r="2.75"/><circle cx="244.4" cy="169.3" r="2.75"/><circle cx="244.3" cy="190.1" r="2.75"/><circle cx="244.7" cy="202.6" r="2.75"/><circle cx="244.8" cy="202.9" r="2.75"/><circle cx="244.8" cy="161.7" r="2.75"/><circle cx="244.9" cy="186.2" r="2.75"/><circle cx="245.2" cy="179.0" r="2.75"/><circle cx="245.6" cy="171.2" r="2.75"/><circle cx="245.4" cy="166.1" r="2.75"/><circle cx="245.5" cy="160.9" r="2.75"/><circle cx="245.6" cy="212.2" r="2.75"/><circle cx="245.9" cy="219.2" r="2.75"/><circle cx="246.1" cy="199.1" r="2.75"/><circle cx="246.2" cy="160.3" r="2.75"/><circle cx="246.7" cy="197.3" r="2.75"/><circle cx="246.5" cy="217.8" r="2.75"/><circle cx="246.8" cy="179.7" r="2.75"/><circle cx="246.9" cy="171.4" r="2.75"/><circle cx="247.1" cy="193.7" r="2.75"/><circle cx="247.4" cy="194.2" r="2.75"/><circle cx="247.6" cy="159.6" r="2.75"/><circle cx="247.7" cy="211.5" r="2.75"/><circle cx="247.8" cy="159.6" r="2.75"/><circle cx="248.2" cy="190.9" r="2.75"/><circle cx="248.0" cy="173.3" r="2.75"/><circle cx="248.2" cy="212.0" r="2.75"/><circle cx="248.7" cy="158.1" r="2.75"/><circle cx="248.6" cy="210.1" r="2.75"/><circle cx="248.7" cy="159.2" r="2.75"/><circle cx="248.7" cy="168.3" r="2.75"/><circle cx="249.0" cy="178.5" r="2.75"/><circle cx="249.1" cy="225.7" r="2.75"/><circle cx="249.1" cy="159.5" r="2.75"/><circle cx="249.6" cy="215.7" r="2.75"/><circle cx="249.6" cy="179.6" r="2.75"/><circle cx="249.8" cy="222.1" r="2.75"/><circle cx="250.1" cy="186.7" r="2.75"/><circle cx="249.9" cy="170.4" r="2.75"/><circle cx="250.4" cy="206.4" r="2.75"/><circle cx="250.1" cy="228.6" r="2.75"/><circle cx="250.6" cy="175.9" r="2.75"/><circle cx="251.0" cy="209.1" r="2.75"/><circle cx="250.9" cy="202.0" r="2.75"/><circle cx="251.3" cy="213.1" r="2.75"/><circle cx="251.5" cy="182.4" r="2.75"/><circle cx="251.2" cy="227.5" r="2.75"/><circle cx="251.6" cy="200.3" r="2.75"/><circle cx="251.5" cy="162.8" r="2.75"/><circle cx="251.7" cy="166.4" r="2.75"/><circle cx="252.0" cy="215.4" r="2.75"/><circle cx="252.1" cy="176.3" r="2.75"/><circle cx="252.3" cy="186.9" r="2.75"/><circle cx="252.7" cy="169.9" r="2.75"/><circle cx="252.5" cy="185.7" r="2.75"/><circle cx="252.6" cy="175.8" r="2.75"/><circle cx="252.9" cy="210.7" r="2.75"/><circle cx="253.1" cy="193.7" r="2.75"/><circle cx="253.1" cy="218.4" r="2.75"/><circle cx="253.5" cy="190.2" r="2.75"/><circle cx="253.4" cy="179.3" r="2.75"/><circle cx="253.5" cy="206.3" r="2.75"/><circle cx="253.9" cy="191.3" r="2.75"/><circle cx="254.1" cy="171.1" r="2.75"/><circle cx="253.9" cy="211.2" r="2.75"/><circle cx="254.3" cy="212.7" r="2.75"/><circle cx="254.4" cy="172.3" r="2.75"/><circle cx="254.7" cy="181.3" r="2.75"/><circle cx="255.0" cy="213.2" r="2.75"/><circle cx="255.0" cy="189.6" r="2.75"/><circle cx="255.2" cy="223.1" r="2.75"/><circle cx="255.4" cy="235.4" r="2.75"/><circle cx="255.4" cy="210.3" r="2.75"/><circle cx="255.8" cy="171.0" r="2.75"/><circle cx="256.0" cy="176.2" r="2.75"/><circle cx="256.2" cy="210.6" r="2.75"/><circle cx="256.1" cy="215.3" r="2.75"/><circle cx="256.2" cy="232.0" r="2.75"/><circle cx="256.3" cy="210.2" r="2.75"/><circle cx="256.5" cy="211.2" r="2.75"/><circle cx="257.1" cy="207.0" r="2.75"/><circle cx="257.0" cy="228.6" r="2.75"/><circle cx="257.1" cy="191.0" r="2.75"/><circle cx="257.7" cy="220.2" r="2.75"/><circle cx="257.3" cy="182.0" r="2.75"/><circle cx="257.5" cy="228.5" r="2.75"/><circle cx="257.9" cy="214.6" r="2.75"/><circle cx="258.1" cy="188.3" r="2.75"/><circle cx="258.1" cy="198.5" r="2.75"/><circle cx="258.6" cy="201.2" r="2.75"/><circle cx="258.9" cy="238.4" r="2.75"/><circle cx="259.2" cy="183.3" r="2.75"/><circle cx="259.4" cy="197.3" r="2.75"/><circle cx="259.2" cy="242.2" r="2.75"/><circle cx="259.5" cy="205.8" r="2.75"/><circle cx="259.5" cy="194.1" r="2.75"/><circle cx="260.1" cy="211.0" r="2.75"/><circle cx="260.0" cy="227.7" r="2.75"/><circle cx="260.3" cy="202.2" r="2.75"/><circle cx="260.6" cy="191.3" r="2.75"/><circle cx="261.0" cy="223.1" r="2.75"/><circle cx="261.3" cy="189.4" r="2.75"/><circle cx="261.2" cy="186.7" r="2.75"/><circle cx="261.8" cy="194.3" r="2.75"/><circle cx="261.9" cy="229.6" r="2.75"/><circle cx="262.1" cy="223.1" r="2.75"/><circle cx="262.6" cy="190.0" r="2.75"/><circle cx="262.7" cy="234.9" r="2.75"/><circle cx="263.0" cy="210.3" r="2.75"/><circle cx="262.9" cy="218.7" r="2.75"/><circle cx="262.8" cy="191.3" r="2.75"/><circle cx="263.4" cy="217.6" r="2.75"/><circle cx="263.7" cy="192.7" r="2.75"/><circle cx="263.8" cy="223.9" r="2.75"/><circle cx="264.3" cy="215.6" r="2.75"/><circle cx="264.2" cy="193.7" r="2.75"/><circle cx="264.5" cy="200.2" r="2.75"/><circle cx="264.9" cy="235.6" r="2.75"/><circle cx="264.7" cy="192.4" r="2.75"/><circle cx="265.0" cy="187.5" r="2.75"/><circle cx="264.9" cy="209.2" r="2.75"/><circle cx="265.5" cy="201.3" r="2.75"/><circle cx="265.4" cy="222.1" r="2.75"/><circle cx="265.3" cy="199.5" r="2.75"/><circle cx="265.9" cy="226.6" r="2.75"/><circle cx="266.3" cy="194.4" r="2.75"/><circle cx="266.1" cy="228.3" r="2.75"/><circle cx="266.5" cy="217.4" r="2.75"/><circle cx="266.6" cy="218.7" r="2.75"/><circle cx="267.0" cy="208.7" r="2.75"/><circle cx="267.3" cy="210.7" r="2.75"/><circle cx="267.2" cy="194.1" r="2.75"/><circle cx="267.8" cy="224.7" r="2.75"/><circle cx="267.7" cy="212.3" r="2.75"/><circle cx="267.9" cy="218.6" r="2.75"/><circle cx="268.3" cy="189.7" r="2.75"/><circle cx="268.6" cy="188.8" r="2.75"/><circle cx="268.9" cy="235.9" r="2.75"/><circle cx="269.0" cy="211.4" r="2.75"/><circle cx="269.2" cy="200.0" r="2.75"/><circle cx="269.5" cy="189.2" r="2.75"/><circle cx="269.5" cy="226.2" r="2.75"/><circle cx="269.9" cy="197.2" r="2.75"/><circle cx="270.2" cy="187.9" r="2.75"/><circle cx="270.4" cy="209.0" r="2.75"/><circle cx="270.5" cy="217.7" r="2.75"/><circle cx="270.5" cy="213.5" r="2.75"/><circle cx="270.8" cy="223.9" r="2.75"/><circle cx="270.7" cy="203.4" r="2.75"/><circle cx="271.2" cy="212.1" r="2.75"/><circle cx="271.0" cy="198.0" r="2.75"/><circle cx="272.0" cy="221.8" r="2.75"/><circle cx="272.1" cy="215.3" r="2.75"/><circle cx="272.0" cy="221.8" r="2.75"/><circle cx="271.9" cy="209.3" r="2.75"/><circle cx="272.7" cy="228.1" r="2.75"/><circle cx="272.5" cy="241.5" r="2.75"/><circle cx="272.5" cy="236.4" r="2.75"/><circle cx="273.1" cy="189.2" r="2.75"/><circle cx="273.0" cy="211.6" r="2.75"/><circle cx="273.1" cy="214.4" r="2.75"/><circle cx="273.1" cy="227.9" r="2.75"/><circle cx="273.6" cy="192.4" r="2.75"/><circle cx="273.7" cy="217.9" r="2.75"/><circle cx="274.4" cy="192.6" r="2.75"/><circle cx="274.4" cy="205.6" r="2.75"/><circle cx="274.2" cy="224.2" r="2.75"/><circle cx="274.6" cy="211.3" r="2.75"/><circle cx="274.7" cy="213.5" r="2.75"/><circle cx="274.8" cy="181.7" r="2.75"/><circle cx="275.2" cy="230.7" r="2.75"/><circle cx="275.1" cy="235.4" r="2.75"/><circle cx="275.2" cy="207.2" r="2.75"/><circle cx="275.5" cy="203.3" r="2.75"/><circle cx="275.6" cy="203.3" r="2.75"/><circle cx="275.9" cy="222.1" r="2.75"/><circle cx="276.1" cy="199.2" r="2.75"/><circle cx="276.8" cy="188.6" r="2.75"/><circle cx="276.9" cy="206.4" r="2.75"/><circle cx="276.8" cy="228.9" r="2.75"/><circle cx="277.7" cy="198.2" r="2.75"/><circle cx="278.2" cy="218.8" r="2.75"/><circle cx="278.1" cy="224.9" r="2.75"/><circle cx="278.6" cy="203.3" r="2.75"/><circle cx="278.8" cy="199.5" r="2.75"/><circle cx="278.8" cy="189.5" r="2.75"/><circle cx="279.2" cy="182.3" r="2.75"/><circle cx="279.3" cy="196.4" r="2.75"/><circle cx="280.0" cy="220.0" r="2.75"/><circle cx="280.5" cy="205.9" r="2.75"/><circle cx="280.4" cy="180.3" r="2.75"/><circle cx="280.6" cy="201.3" r="2.75"/><circle cx="280.8" cy="193.4" r="2.75"/><circle cx="281.3" cy="183.4" r="2.75"/><circle cx="281.3" cy="173.7" r="2.75"/><circle cx="281.7" cy="190.5" r="2.75"/><circle cx="282.2" cy="173.4" r="2.75"/><circle cx="282.3" cy="195.6" r="2.75"/><circle cx="283.0" cy="202.3" r="2.75"/><circle cx="283.3" cy="186.6" r="2.75"/><circle cx="283.6" cy="200.1" r="2.75"/><circle cx="283.6" cy="175.3" r="2.75"/><circle cx="283.8" cy="179.6" r="2.75"/><circle cx="284.3" cy="202.3" r="2.75"/><circle cx="284.5" cy="189.7" r="2.75"/><circle cx="285.4" cy="196.8" r="2.75"/><circle cx="285.1" cy="189.3" r="2.75"/><circle cx="285.5" cy="176.0" r="2.75"/><circle cx="286.3" cy="172.0" r="2.75"/><circle cx="287.1" cy="181.2" r="2.75"/><circle cx="287.4" cy="188.6" r="2.75"/><circle cx="287.3" cy="188.7" r="2.75"/><circle cx="287.8" cy="195.5" r="2.75"/><circle cx="288.4" cy="194.4" r="2.75"/><circle cx="288.6" cy="191.7" r="2.75"/><circle cx="288.5" cy="187.3" r="2.75"/><circle cx="288.9" cy="199.0" r="2.75"/><circle cx="288.8" cy="193.2" r="2.75"/><circle cx="289.5" cy="188.8" r="2.75"/><circle cx="297.8" cy="156.0" r="2.75"/><circle cx="298.1" cy="187.8" r="2.75"/><circle cx="298.0" cy="187.6" r="2.75"/><circle cx="298.2" cy="179.1" r="2.75"/><circle cx="298.6" cy="150.2" r="2.75"/><circle cx="298.5" cy="176.4" r="2.75"/><circle cx="298.9" cy="147.0" r="2.75"/><circle cx="299.1" cy="171.6" r="2.75"/><circle cx="299.0" cy="175.8" r="2.75"/><circle cx="299.1" cy="181.7" r="2.75"/><circle cx="299.3" cy="176.2" r="2.75"/><circle cx="299.6" cy="196.7" r="2.75"/><circle cx="299.9" cy="145.7" r="2.75"/><circle cx="300.1" cy="187.0" r="2.75"/><circle cx="300.4" cy="191.0" r="2.75"/><circle cx="300.4" cy="194.6" r="2.75"/><circle cx="300.3" cy="181.4" r="2.75"/><circle cx="300.5" cy="169.8" r="2.75"/><circle cx="301.0" cy="164.5" r="2.75"/><circle cx="301.2" cy="157.8" r="2.75"/><circle cx="301.2" cy="174.8" r="2.75"/><circle cx="301.1" cy="159.8" r="2.75"/><circle cx="301.3" cy="170.9" r="2.75"/><circle cx="301.5" cy="155.2" r="2.75"/><circle cx="301.6" cy="159.3" r="2.75"/><circle cx="302.3" cy="186.8" r="2.75"/><circle cx="302.3" cy="154.8" r="2.75"/><circle cx="302.5" cy="192.9" r="2.75"/><circle cx="302.3" cy="156.2" r="2.75"/><circle cx="302.5" cy="167.8" r="2.75"/><circle cx="302.9" cy="150.4" r="2.75"/><circle cx="303.0" cy="179.0" r="2.75"/><circle cx="303.5" cy="149.7" r="2.75"/><circle cx="303.7" cy="194.5" r="2.75"/><circle cx="303.4" cy="171.0" r="2.75"/><circle cx="303.6" cy="184.6" r="2.75"/><circle cx="303.7" cy="157.7" r="2.75"/><circle cx="304.2" cy="180.3" r="2.75"/><circle cx="304.6" cy="184.5" r="2.75"/><circle cx="304.6" cy="163.3" r="2.75"/><circle cx="304.8" cy="162.5" r="2.75"/><circle cx="304.7" cy="193.6" r="2.75"/><circle cx="305.4" cy="175.2" r="2.75"/><circle cx="305.0" cy="158.5" r="2.75"/><circle cx="305.7" cy="157.0" r="2.75"/><circle cx="305.3" cy="149.0" r="2.75"/><circle cx="306.0" cy="146.2" r="2.75"/><circle cx="305.8" cy="192.4" r="2.75"/><circle cx="306.0" cy="170.8" r="2.75"/><circle cx="306.1" cy="160.2" r="2.75"/><circle cx="306.2" cy="155.4" r="2.75"/><circle cx="306.4" cy="177.5" r="2.75"/><circle cx="306.9" cy="139.8" r="2.75"/><circle cx="307.1" cy="190.9" r="2.75"/><circle cx="307.3" cy="157.1" r="2.75"/><circle cx="307.5" cy="173.4" r="2.75"/><circle cx="307.6" cy="188.4" r="2.75"/><circle cx="307.5" cy="156.9" r="2.75"/><circle cx="308.0" cy="188.6" r="2.75"/><circle cx="308.3" cy="182.5" r="2.75"/><circle cx="308.5" cy="153.8" r="2.75"/><circle cx="308.3" cy="160.8" r="2.75"/><circle cx="308.5" cy="175.1" r="2.75"/><circle cx="308.8" cy="185.6" r="2.75"/><circle cx="309.2" cy="179.4" r="2.75"/><circle cx="309.2" cy="132.8" r="2.75"/><circle cx="309.5" cy="186.4" r="2.75"/><circle cx="309.2" cy="176.2" r="2.75"/><circle cx="309.6" cy="181.2" r="2.75"/><circle cx="310.0" cy="147.2" r="2.75"/><circle cx="309.8" cy="184.0" r="2.75"/><circle cx="310.2" cy="189.3" r="2.75"/><circle cx="310.2" cy="194.0" r="2.75"/><circle cx="310.6" cy="186.4" r="2.75"/><circle cx="310.8" cy="137.3" r="2.75"/><circle cx="311.1" cy="139.9" r="2.75"/><circle cx="311.2" cy="177.8" r="2.75"/><circle cx="311.1" cy="186.9" r="2.75"/><circle cx="311.3" cy="182.7" r="2.75"/><circle cx="311.5" cy="154.5" r="2.75"/><circle cx="311.6" cy="138.2" r="2.75"/><circle cx="312.1" cy="170.8" r="2.75"/><circle cx="312.0" cy="147.6" r="2.75"/><circle cx="312.1" cy="158.4" r="2.75"/><circle cx="312.7" cy="183.9" r="2.75"/><circle cx="312.7" cy="167.4" r="2.75"/><circle cx="312.7" cy="213.1" r="2.75"/><circle cx="312.8" cy="195.4" r="2.75"/><circle cx="312.9" cy="179.9" r="2.75"/><circle cx="313.1" cy="206.5" r="2.75"/><circle cx="313.5" cy="166.2" r="2.75"/><circle cx="313.7" cy="156.5" r="2.75"/><circle cx="314.2" cy="167.8" r="2.75"/><circle cx="313.9" cy="156.3" r="2.75"/><circle cx="314.4" cy="185.5" r="2.75"/><circle cx="314.3" cy="171.4" r="2.75"/><circle cx="314.7" cy="186.7" r="2.75"/><circle cx="315.0" cy="201.7" r="2.75"/><circle cx="315.0" cy="167.7" r="2.75"/><circle cx="314.9" cy="170.2" r="2.75"/><circle cx="315.4" cy="200.0" r="2.75"/><circle cx="315.6" cy="159.1" r="2.75"/><circle cx="315.9" cy="186.8" r="2.75"/><circle cx="315.7" cy="204.1" r="2.75"/><circle cx="316.1" cy="187.3" r="2.75"/><circle cx="316.3" cy="199.6" r="2.75"/><circle cx="316.4" cy="194.3" r="2.75"/><circle cx="316.3" cy="175.3" r="2.75"/><circle cx="316.9" cy="173.8" r="2.75"/><circle cx="316.8" cy="170.0" r="2.75"/><circle cx="316.9" cy="195.5" r="2.75"/><circle cx="317.0" cy="184.0" r="2.75"/><circle cx="317.5" cy="191.2" r="2.75"/><circle cx="317.7" cy="177.7" r="2.75"/><circle cx="317.5" cy="187.0" r="2.75"/><circle cx="317.9" cy="188.8" r="2.75"/><circle cx="318.4" cy="191.0" r="2.75"/><circle cx="318.2" cy="153.5" r="2.75"/><circle cx="318.7" cy="171.9" r="2.75"/><circle cx="318.9" cy="169.6" r="2.75"/><circle cx="318.6" cy="191.3" r="2.75"/><circle cx="319.2" cy="201.1" r="2.75"/><circle cx="318.9" cy="160.5" r="2.75"/><circle cx="319.5" cy="190.0" r="2.75"/><circle cx="319.4" cy="170.2" r="2.75"/><circle cx="319.7" cy="177.2" r="2.75"/><circle cx="319.7" cy="213.7" r="2.75"/><circle cx="320.1" cy="209.9" r="2.75"/><circle cx="320.2" cy="179.3" r="2.75"/><circle cx="320.6" cy="178.7" r="2.75"/><circle cx="320.6" cy="183.5" r="2.75"/><circle cx="320.6" cy="193.7" r="2.75"/><circle cx="320.8" cy="149.4" r="2.75"/><circle cx="321.1" cy="201.4" r="2.75"/><circle cx="321.4" cy="186.3" r="2.75"/><circle cx="321.3" cy="219.0" r="2.75"/><circle cx="321.6" cy="193.1" r="2.75"/><circle cx="321.7" cy="179.6" r="2.75"/><circle cx="321.8" cy="196.8" r="2.75"/><circle cx="322.4" cy="152.8" r="2.75"/><circle cx="322.2" cy="170.8" r="2.75"/><circle cx="322.4" cy="162.9" r="2.75"/><circle cx="322.5" cy="153.4" r="2.75"/><circle cx="323.1" cy="191.4" r="2.75"/><circle cx="323.2" cy="203.5" r="2.75"/><circle cx="323.4" cy="184.2" r="2.75"/><circle cx="323.2" cy="205.0" r="2.75"/><circle cx="323.6" cy="180.4" r="2.75"/><circle cx="323.7" cy="195.7" r="2.75"/><circle cx="323.7" cy="193.7" r="2.75"/><circle cx="324.0" cy="169.1" r="2.75"/><circle cx="324.5" cy="169.7" r="2.75"/><circle cx="324.3" cy="168.1" r="2.75"/><circle cx="324.9" cy="155.7" r="2.75"/><circle cx="324.6" cy="190.8" r="2.75"/><circle cx="324.7" cy="160.7" r="2.75"/><circle cx="325.5" cy="175.6" r="2.75"/><circle cx="325.5" cy="212.1" r="2.75"/><circle cx="325.4" cy="206.6" r="2.75"/><circle cx="325.7" cy="206.4" r="2.75"/><circle cx="325.7" cy="198.2" r="2.75"/><circle cx="325.9" cy="164.9" r="2.75"/><circle cx="326.4" cy="193.5" r="2.75"/><circle cx="326.5" cy="161.5" r="2.75"/><circle cx="326.3" cy="186.4" r="2.75"/><circle cx="326.5" cy="189.1" r="2.75"/><circle cx="327.2" cy="194.5" r="2.75"/><circle cx="326.9" cy="161.0" r="2.75"/><circle cx="327.4" cy="180.4" r="2.75"/><circle cx="327.8" cy="170.8" r="2.75"/><circle cx="327.8" cy="199.2" r="2.75"/><circle cx="328.1" cy="196.7" r="2.75"/><circle cx="327.9" cy="163.4" r="2.75"/><circle cx="328.4" cy="163.7" r="2.75"/><circle cx="328.6" cy="175.1" r="2.75"/><circle cx="328.3" cy="191.6" r="2.75"/><circle cx="328.8" cy="181.5" r="2.75"/><circle cx="329.0" cy="203.9" r="2.75"/><circle cx="329.2" cy="189.7" r="2.75"/><circle cx="329.7" cy="175.7" r="2.75"/><circle cx="329.8" cy="195.8" r="2.75"/><circle cx="330.2" cy="184.7" r="2.75"/><circle cx="330.7" cy="204.3" r="2.75"/><circle cx="331.5" cy="196.5" r="2.75"/><circle cx="331.5" cy="183.4" r="2.75"/><circle cx="331.5" cy="202.3" r="2.75"/><circle cx="331.6" cy="199.1" r="2.75"/><circle cx="332.0" cy="184.4" r="2.75"/><circle cx="332.0" cy="202.8" r="2.75"/><circle cx="332.3" cy="168.7" r="2.75"/><circle cx="332.5" cy="176.0" r="2.75"/><circle cx="333.0" cy="181.3" r="2.75"/><circle cx="333.1" cy="154.5" r="2.75"/><circle cx="333.0" cy="169.6" r="2.75"/><circle cx="333.3" cy="177.5" r="2.75"/><circle cx="333.6" cy="172.0" r="2.75"/><circle cx="333.5" cy="184.7" r="2.75"/><circle cx="333.6" cy="178.5" r="2.75"/><circle cx="333.9" cy="149.8" r="2.75"/><circle cx="334.2" cy="182.4" r="2.75"/><circle cx="334.2" cy="169.9" r="2.75"/><circle cx="334.3" cy="191.5" r="2.75"/><circle cx="334.7" cy="157.7" r="2.75"/><circle cx="334.6" cy="183.6" r="2.75"/><circle cx="334.9" cy="174.2" r="2.75"/><circle cx="335.0" cy="172.6" r="2.75"/><circle cx="335.7" cy="163.5" r="2.75"/><circle cx="335.5" cy="183.3" r="2.75"/><circle cx="335.6" cy="155.1" r="2.75"/><circle cx="335.7" cy="177.7" r="2.75"/><circle cx="335.9" cy="149.5" r="2.75"/><circle cx="336.5" cy="161.5" r="2.75"/><circle cx="336.6" cy="145.0" r="2.75"/><circle cx="336.5" cy="195.3" r="2.75"/><circle cx="336.9" cy="171.9" r="2.75"/><circle cx="337.2" cy="186.7" r="2.75"/><circle cx="337.0" cy="186.2" r="2.75"/><circle cx="337.5" cy="192.9" r="2.75"/><circle cx="337.3" cy="189.0" r="2.75"/><circle cx="337.4" cy="179.4" r="2.75"/><circle cx="338.1" cy="164.6" r="2.75"/><circle cx="337.9" cy="145.5" r="2.75"/><circle cx="338.5" cy="175.2" r="2.75"/><circle cx="338.4" cy="152.1" r="2.75"/><circle cx="338.4" cy="159.4" r="2.75"/><circle cx="338.8" cy="171.7" r="2.75"/><circle cx="338.9" cy="161.1" r="2.75"/><circle cx="339.2" cy="165.4" r="2.75"/><circle cx="339.2" cy="174.5" r="2.75"/><circle cx="339.6" cy="182.0" r="2.75"/><circle cx="339.7" cy="148.2" r="2.75"/><circle cx="339.7" cy="142.6" r="2.75"/><circle cx="339.8" cy="146.3" r="2.75"/><circle cx="340.1" cy="142.2" r="2.75"/><circle cx="340.3" cy="192.7" r="2.75"/><circle cx="340.8" cy="151.1" r="2.75"/><circle cx="340.9" cy="197.5" r="2.75"/><circle cx="341.0" cy="185.8" r="2.75"/><circle cx="341.1" cy="150.2" r="2.75"/><circle cx="341.0" cy="155.1" r="2.75"/><circle cx="341.6" cy="148.5" r="2.75"/><circle cx="341.9" cy="185.2" r="2.75"/><circle cx="341.6" cy="184.0" r="2.75"/><circle cx="341.8" cy="167.8" r="2.75"/><circle cx="341.9" cy="194.2" r="2.75"/><circle cx="342.1" cy="146.9" r="2.75"/><circle cx="342.4" cy="173.0" r="2.75"/><circle cx="342.5" cy="165.6" r="2.75"/><circle cx="342.5" cy="186.6" r="2.75"/><circle cx="343.2" cy="152.0" r="2.75"/><circle cx="343.5" cy="144.8" r="2.75"/><circle cx="343.2" cy="144.8" r="2.75"/><circle cx="343.3" cy="162.1" r="2.75"/><circle cx="343.8" cy="168.0" r="2.75"/><circle cx="344.2" cy="145.6" r="2.75"/><circle cx="344.0" cy="185.2" r="2.75"/><circle cx="344.1" cy="158.9" r="2.75"/><circle cx="344.6" cy="157.0" r="2.75"/><circle cx="344.6" cy="167.8" r="2.75"/><circle cx="344.5" cy="180.6" r="2.75"/><circle cx="345.0" cy="154.0" r="2.75"/><circle cx="345.1" cy="166.4" r="2.75"/><circle cx="345.6" cy="190.6" r="2.75"/><circle cx="345.6" cy="171.1" r="2.75"/><circle cx="345.6" cy="162.6" r="2.75"/><circle cx="345.6" cy="140.6" r="2.75"/><circle cx="345.8" cy="142.8" r="2.75"/><circle cx="346.3" cy="147.8" r="2.75"/><circle cx="346.4" cy="159.5" r="2.75"/><circle cx="346.7" cy="179.8" r="2.75"/><circle cx="346.7" cy="194.4" r="2.75"/><circle cx="346.9" cy="182.8" r="2.75"/><circle cx="347.2" cy="174.8" r="2.75"/><circle cx="347.1" cy="144.2" r="2.75"/><circle cx="347.7" cy="194.0" r="2.75"/><circle cx="347.5" cy="164.4" r="2.75"/><circle cx="348.0" cy="184.0" r="2.75"/><circle cx="348.2" cy="172.3" r="2.75"/><circle cx="348.3" cy="148.2" r="2.75"/><circle cx="348.1" cy="142.5" r="2.75"/><circle cx="348.3" cy="177.6" r="2.75"/><circle cx="348.4" cy="177.9" r="2.75"/><circle cx="348.6" cy="187.7" r="2.75"/><circle cx="349.2" cy="151.6" r="2.75"/><circle cx="349.3" cy="144.5" r="2.75"/><circle cx="349.1" cy="139.0" r="2.75"/><circle cx="349.7" cy="173.6" r="2.75"/><circle cx="350.0" cy="190.1" r="2.75"/><circle cx="350.0" cy="172.1" r="2.75"/><circle cx="350.1" cy="190.8" r="2.75"/><circle cx="350.1" cy="179.8" r="2.75"/><circle cx="350.3" cy="163.2" r="2.75"/><circle cx="350.8" cy="167.2" r="2.75"/><circle cx="350.6" cy="168.4" r="2.75"/><circle cx="350.7" cy="179.5" r="2.75"/><circle cx="351.2" cy="186.9" r="2.75"/><circle cx="351.5" cy="156.0" r="2.75"/><circle cx="351.3" cy="166.7" r="2.75"/><circle cx="351.7" cy="148.1" r="2.75"/><circle cx="351.8" cy="191.0" r="2.75"/><circle cx="351.8" cy="142.6" r="2.75"/><circle cx="352.1" cy="148.9" r="2.75"/><circle cx="352.5" cy="173.8" r="2.75"/><circle cx="352.4" cy="160.4" r="2.75"/><circle cx="352.8" cy="156.2" r="2.75"/><circle cx="353.0" cy="140.2" r="2.75"/><circle cx="352.9" cy="158.7" r="2.75"/><circle cx="353.0" cy="174.3" r="2.75"/><circle cx="353.7" cy="164.1" r="2.75"/><circle cx="353.5" cy="147.2" r="2.75"/><circle cx="353.9" cy="170.3" r="2.75"/><circle cx="354.0" cy="151.3" r="2.75"/><circle cx="354.2" cy="181.1" r="2.75"/><circle cx="354.3" cy="186.3" r="2.75"/><circle cx="354.8" cy="172.3" r="2.75"/><circle cx="354.5" cy="194.0" r="2.75"/><circle cx="354.6" cy="144.9" r="2.75"/><circle cx="354.9" cy="184.5" r="2.75"/><circle cx="355.4" cy="157.8" r="2.75"/><circle cx="355.1" cy="178.1" r="2.75"/><circle cx="355.8" cy="157.0" r="2.75"/><circle cx="355.5" cy="151.3" r="2.75"/><circle cx="355.8" cy="147.2" r="2.75"/><circle cx="356.1" cy="159.5" r="2.75"/><circle cx="356.2" cy="155.7" r="2.75"/><circle cx="356.2" cy="178.4" r="2.75"/><circle cx="356.8" cy="173.9" r="2.75"/><circle cx="356.6" cy="162.4" r="2.75"/><circle cx="356.9" cy="196.5" r="2.75"/><circle cx="357.4" cy="192.0" r="2.75"/><circle cx="357.1" cy="146.5" r="2.75"/><circle cx="357.2" cy="179.1" r="2.75"/><circle cx="357.8" cy="147.7" r="2.75"/><circle cx="357.7" cy="166.1" r="2.75"/><circle cx="357.8" cy="165.9" r="2.75"/><circle cx="357.9" cy="162.6" r="2.75"/><circle cx="358.1" cy="161.6" r="2.75"/><circle cx="358.7" cy="187.1" r="2.75"/><circle cx="358.5" cy="165.2" r="2.75"/><circle cx="358.8" cy="160.7" r="2.75"/><circle cx="359.3" cy="188.9" r="2.75"/><circle cx="359.5" cy="164.4" r="2.75"/><circle cx="359.7" cy="196.1" r="2.75"/><circle cx="359.8" cy="167.7" r="2.75"/><circle cx="359.5" cy="140.7" r="2.75"/><circle cx="360.1" cy="187.0" r="2.75"/><circle cx="359.9" cy="184.7" r="2.75"/><circle cx="360.5" cy="178.6" r="2.75"/><circle cx="360.5" cy="161.1" r="2.75"/><circle cx="360.7" cy="183.3" r="2.75"/><circle cx="360.7" cy="176.1" r="2.75"/><circle cx="361.1" cy="166.1" r="2.75"/><circle cx="361.3" cy="147.1" r="2.75"/><circle cx="361.6" cy="152.0" r="2.75"/><circle cx="361.4" cy="175.1" r="2.75"/><circle cx="361.9" cy="163.5" r="2.75"/><circle cx="361.8" cy="139.5" r="2.75"/><circle cx="362.0" cy="166.1" r="2.75"/><circle cx="362.0" cy="185.5" r="2.75"/><circle cx="362.5" cy="185.8" r="2.75"/><circle cx="362.7" cy="138.2" r="2.75"/><circle cx="362.6" cy="170.7" r="2.75"/><circle cx="363.1" cy="171.9" r="2.75"/><circle cx="363.2" cy="172.6" r="2.75"/><circle cx="363.5" cy="179.2" r="2.75"/><circle cx="363.4" cy="187.0" r="2.75"/><circle cx="363.9" cy="149.3" r="2.75"/><circle cx="363.9" cy="172.8" r="2.75"/><circle cx="364.2" cy="188.3" r="2.75"/><circle cx="364.3" cy="176.7" r="2.75"/><circle cx="364.4" cy="204.7" r="2.75"/><circle cx="364.3" cy="171.0" r="2.75"/><circle cx="364.5" cy="191.4" r="2.75"/><circle cx="364.7" cy="198.6" r="2.75"/><circle cx="365.0" cy="181.1" r="2.75"/><circle cx="365.2" cy="161.2" r="2.75"/><circle cx="365.7" cy="149.6" r="2.75"/><circle cx="365.6" cy="165.7" r="2.75"/><circle cx="365.7" cy="177.1" r="2.75"/><circle cx="366.2" cy="177.9" r="2.75"/><circle cx="366.1" cy="163.1" r="2.75"/><circle cx="366.2" cy="183.6" r="2.75"/><circle cx="366.7" cy="172.5" r="2.75"/><circle cx="366.5" cy="206.6" r="2.75"/><circle cx="366.5" cy="196.3" r="2.75"/><circle cx="366.9" cy="211.1" r="2.75"/><circle cx="367.1" cy="173.1" r="2.75"/><circle cx="367.3" cy="195.6" r="2.75"/><circle cx="367.6" cy="202.4" r="2.75"/><circle cx="367.4" cy="172.2" r="2.75"/><circle cx="367.8" cy="163.2" r="2.75"/><circle cx="368.2" cy="145.1" r="2.75"/><circle cx="368.3" cy="189.0" r="2.75"/><circle cx="368.5" cy="184.9" r="2.75"/><circle cx="368.8" cy="145.0" r="2.75"/><circle cx="368.5" cy="189.0" r="2.75"/><circle cx="368.7" cy="188.4" r="2.75"/><circle cx="369.3" cy="200.3" r="2.75"/><circle cx="369.4" cy="145.2" r="2.75"/><circle cx="369.6" cy="199.1" r="2.75"/><circle cx="369.6" cy="152.1" r="2.75"/><circle cx="370.0" cy="168.9" r="2.75"/><circle cx="369.8" cy="192.3" r="2.75"/><circle cx="369.9" cy="157.5" r="2.75"/><circle cx="370.4" cy="142.6" r="2.75"/><circle cx="370.6" cy="162.0" r="2.75"/><circle cx="370.5" cy="196.8" r="2.75"/><circle cx="371.1" cy="173.7" r="2.75"/><circle cx="371.3" cy="152.1" r="2.75"/><circle cx="371.3" cy="156.1" r="2.75"/><circle cx="371.7" cy="168.5" r="2.75"/><circle cx="371.6" cy="185.8" r="2.75"/><circle cx="371.6" cy="145.2" r="2.75"/><circle cx="371.9" cy="142.0" r="2.75"/><circle cx="372.4" cy="184.4" r="2.75"/><circle cx="372.1" cy="174.6" r="2.75"/><circle cx="372.3" cy="155.3" r="2.75"/><circle cx="372.6" cy="180.8" r="2.75"/><circle cx="372.7" cy="163.8" r="2.75"/><circle cx="372.9" cy="188.8" r="2.75"/><circle cx="372.9" cy="202.8" r="2.75"/><circle cx="373.2" cy="209.2" r="2.75"/><circle cx="373.8" cy="201.0" r="2.75"/><circle cx="373.7" cy="173.1" r="2.75"/><circle cx="374.2" cy="160.7" r="2.75"/><circle cx="374.3" cy="205.4" r="2.75"/><circle cx="374.2" cy="202.7" r="2.75"/><circle cx="374.6" cy="163.9" r="2.75"/><circle cx="374.3" cy="198.7" r="2.75"/><circle cx="374.9" cy="194.7" r="2.75"/><circle cx="374.7" cy="153.5" r="2.75"/><circle cx="375.4" cy="161.0" r="2.75"/><circle cx="375.1" cy="202.7" r="2.75"/><circle cx="375.4" cy="197.8" r="2.75"/><circle cx="375.7" cy="183.0" r="2.75"/><circle cx="376.0" cy="204.8" r="2.75"/><circle cx="376.2" cy="171.2" r="2.75"/><circle cx="376.0" cy="195.6" r="2.75"/><circle cx="376.4" cy="171.2" r="2.75"/><circle cx="376.5" cy="186.5" r="2.75"/><circle cx="376.6" cy="204.6" r="2.75"/><circle cx="376.7" cy="182.0" r="2.75"/><circle cx="376.9" cy="180.5" r="2.75"/><circle cx="377.2" cy="201.3" r="2.75"/><circle cx="377.7" cy="164.8" r="2.75"/><circle cx="377.7" cy="173.6" r="2.75"/><circle cx="377.8" cy="151.8" r="2.75"/><circle cx="378.0" cy="205.0" r="2.75"/><circle cx="377.9" cy="166.2" r="2.75"/><circle cx="378.5" cy="171.2" r="2.75"/><circle cx="378.3" cy="174.5" r="2.75"/><circle cx="378.8" cy="159.6" r="2.75"/><circle cx="378.7" cy="217.5" r="2.75"/><circle cx="379.3" cy="169.6" r="2.75"/><circle cx="379.1" cy="156.4" r="2.75"/><circle cx="379.1" cy="166.0" r="2.75"/><circle cx="379.5" cy="189.8" r="2.75"/><circle cx="379.8" cy="199.0" r="2.75"/><circle cx="379.7" cy="190.2" r="2.75"/><circle cx="380.2" cy="161.6" r="2.75"/><circle cx="380.2" cy="160.9" r="2.75"/><circle cx="380.6" cy="151.3" r="2.75"/><circle cx="380.6" cy="182.5" r="2.75"/><circle cx="381.0" cy="216.2" r="2.75"/><circle cx="380.6" cy="179.3" r="2.75"/><circle cx="381.0" cy="201.5" r="2.75"/><circle cx="381.4" cy="176.8" r="2.75"/><circle cx="381.7" cy="196.9" r="2.75"/><circle cx="381.4" cy="152.8" r="2.75"/><circle cx="381.8" cy="183.7" r="2.75"/><circle cx="383.7" cy="189.0" r="2.75"/><circle cx="384.9" cy="143.7" r="2.75"/><circle cx="384.8" cy="213.3" r="2.75"/><circle cx="385.0" cy="172.6" r="2.75"/><circle cx="385.3" cy="142.1" r="2.75"/><circle cx="385.4" cy="155.3" r="2.75"/><circle cx="385.5" cy="165.7" r="2.75"/><circle cx="386.0" cy="200.5" r="2.75"/><circle cx="386.1" cy="186.1" r="2.75"/><circle cx="386.3" cy="181.3" r="2.75"/><circle cx="386.5" cy="186.5" r="2.75"/><circle cx="386.2" cy="165.1" r="2.75"/><circle cx="386.8" cy="188.9" r="2.75"/><circle cx="386.8" cy="195.1" r="2.75"/><circle cx="386.7" cy="169.5" r="2.75"/><circle cx="386.9" cy="203.3" r="2.75"/><circle cx="387.0" cy="203.3" r="2.75"/><circle cx="387.6" cy="176.7" r="2.75"/><circle cx="387.5" cy="157.3" r="2.75"/><circle cx="387.9" cy="185.6" r="2.75"/><circle cx="388.2" cy="155.3" r="2.75"/><circle cx="388.0" cy="145.9" r="2.75"/><circle cx="388.4" cy="167.0" r="2.75"/><circle cx="388.6" cy="202.0" r="2.75"/><circle cx="389.0" cy="172.1" r="2.75"/><circle cx="388.8" cy="157.9" r="2.75"/><circle cx="389.1" cy="196.0" r="2.75"/><circle cx="389.1" cy="196.7" r="2.75"/><circle cx="389.4" cy="155.3" r="2.75"/><circle cx="389.7" cy="199.7" r="2.75"/><circle cx="390.1" cy="176.0" r="2.75"/><circle cx="390.0" cy="174.7" r="2.75"/><circle cx="390.3" cy="166.1" r="2.75"/><circle cx="390.0" cy="185.0" r="2.75"/><circle cx="390.7" cy="174.3" r="2.75"/><circle cx="390.6" cy="199.6" r="2.75"/><circle cx="391.1" cy="195.8" r="2.75"/><circle cx="391.2" cy="177.6" r="2.75"/><circle cx="391.1" cy="165.0" r="2.75"/><circle cx="391.6" cy="164.3" r="2.75"/><circle cx="391.6" cy="162.7" r="2.75"/><circle cx="392.0" cy="204.6" r="2.75"/><circle cx="392.0" cy="183.5" r="2.75"/><circle cx="391.9" cy="162.5" r="2.75"/><circle cx="392.2" cy="162.9" r="2.75"/><circle cx="392.4" cy="143.5" r="2.75"/><circle cx="392.8" cy="175.7" r="2.75"/><circle cx="392.5" cy="160.8" r="2.75"/><circle cx="393.2" cy="178.5" r="2.75"/><circle cx="393.0" cy="158.5" r="2.75"/><circle cx="393.5" cy="178.8" r="2.75"/><circle cx="393.7" cy="144.5" r="2.75"/><circle cx="393.6" cy="148.7" r="2.75"/><circle cx="394.1" cy="191.1" r="2.75"/><circle cx="394.1" cy="161.8" r="2.75"/><circle cx="393.9" cy="144.9" r="2.75"/><circle cx="394.1" cy="168.8" r="2.75"/><circle cx="394.5" cy="149.3" r="2.75"/><circle cx="394.6" cy="167.5" r="2.75"/><circle cx="395.1" cy="172.8" r="2.75"/><circle cx="395.1" cy="177.5" r="2.75"/><circle cx="395.3" cy="180.8" r="2.75"/><circle cx="395.5" cy="152.1" r="2.75"/><circle cx="395.7" cy="170.5" r="2.75"/><circle cx="395.9" cy="176.5" r="2.75"/><circle cx="395.8" cy="178.8" r="2.75"/><circle cx="396.1" cy="139.0" r="2.75"/><circle cx="396.1" cy="178.6" r="2.75"/><circle cx="396.6" cy="178.3" r="2.75"/><circle cx="396.4" cy="160.1" r="2.75"/><circle cx="396.6" cy="192.7" r="2.75"/><circle cx="397.2" cy="174.6" r="2.75"/><circle cx="397.2" cy="169.3" r="2.75"/><circle cx="397.3" cy="194.6" r="2.75"/><circle cx="397.8" cy="175.1" r="2.75"/><circle cx="397.7" cy="181.9" r="2.75"/><circle cx="398.2" cy="195.3" r="2.75"/><circle cx="397.9" cy="170.3" r="2.75"/><circle cx="398.0" cy="160.6" r="2.75"/><circle cx="398.1" cy="181.1" r="2.75"/><circle cx="398.7" cy="156.9" r="2.75"/><circle cx="398.8" cy="172.6" r="2.75"/><circle cx="398.7" cy="162.6" r="2.75"/><circle cx="399.4" cy="172.6" r="2.75"/><circle cx="399.2" cy="177.6" r="2.75"/><circle cx="399.4" cy="164.7" r="2.75"/><circle cx="399.7" cy="145.2" r="2.75"/><circle cx="399.8" cy="175.2" r="2.75"/><circle cx="399.9" cy="158.5" r="2.75"/><circle cx="400.2" cy="181.3" r="2.75"/><circle cx="400.6" cy="163.0" r="2.75"/><circle cx="400.8" cy="187.2" r="2.75"/><circle cx="400.5" cy="152.9" r="2.75"/><circle cx="400.9" cy="156.3" r="2.75"/><circle cx="400.8" cy="146.9" r="2.75"/><circle cx="401.0" cy="174.8" r="2.75"/><circle cx="401.1" cy="193.2" r="2.75"/><circle cx="401.9" cy="185.4" r="2.75"/><circle cx="401.8" cy="147.6" r="2.75"/><circle cx="402.0" cy="170.6" r="2.75"/><circle cx="401.9" cy="155.7" r="2.75"/><circle cx="402.6" cy="159.6" r="2.75"/><circle cx="402.3" cy="148.1" r="2.75"/><circle cx="402.5" cy="157.1" r="2.75"/><circle cx="402.6" cy="187.5" r="2.75"/><circle cx="403.0" cy="165.8" r="2.75"/><circle cx="403.3" cy="151.2" r="2.75"/><circle cx="403.6" cy="173.5" r="2.75"/><circle cx="403.5" cy="173.5" r="2.75"/><circle cx="403.9" cy="160.1" r="2.75"/><circle cx="403.7" cy="195.3" r="2.75"/><circle cx="404.3" cy="166.4" r="2.75"/><circle cx="404.5" cy="175.0" r="2.75"/><circle cx="404.4" cy="150.5" r="2.75"/><circle cx="404.5" cy="158.7" r="2.75"/><circle cx="404.6" cy="149.4" r="2.75"/><circle cx="405.0" cy="165.1" r="2.75"/><circle cx="404.8" cy="188.6" r="2.75"/><circle cx="405.3" cy="176.8" r="2.75"/><circle cx="405.7" cy="139.1" r="2.75"/><circle cx="405.4" cy="171.6" r="2.75"/><circle cx="405.7" cy="187.4" r="2.75"/><circle cx="406.1" cy="156.2" r="2.75"/><circle cx="406.2" cy="176.9" r="2.75"/><circle cx="406.4" cy="183.8" r="2.75"/><circle cx="406.5" cy="191.7" r="2.75"/><circle cx="406.4" cy="167.9" r="2.75"/><circle cx="407.0" cy="154.6" r="2.75"/><circle cx="407.0" cy="183.1" r="2.75"/><circle cx="407.4" cy="151.1" r="2.75"/><circle cx="407.4" cy="185.2" r="2.75"/><circle cx="407.3" cy="173.3" r="2.75"/><circle cx="407.9" cy="150.4" r="2.75"/><circle cx="407.7" cy="169.3" r="2.75"/><circle cx="408.2" cy="156.2" r="2.75"/><circle cx="408.2" cy="151.8" r="2.75"/><circle cx="408.2" cy="161.4" r="2.75"/><circle cx="408.8" cy="182.1" r="2.75"/><circle cx="409.1" cy="163.6" r="2.75"/><circle cx="409.2" cy="139.7" r="2.75"/><circle cx="409.4" cy="165.2" r="2.75"/><circle cx="409.3" cy="145.3" r="2.75"/><circle cx="409.4" cy="165.0" r="2.75"/><circle cx="410.0" cy="174.0" r="2.75"/><circle cx="410.2" cy="168.9" r="2.75"/><circle cx="410.1" cy="144.6" r="2.75"/><circle cx="410.5" cy="162.5" r="2.75"/><circle cx="444.7" cy="144.7" r="2.75"/><circle cx="444.8" cy="150.9" r="2.75"/><circle cx="444.8" cy="121.4" r="2.75"/><circle cx="445.1" cy="150.0" r="2.75"/><circle cx="445.2" cy="150.8" r="2.75"/><circle cx="445.6" cy="139.6" r="2.75"/><circle cx="445.9" cy="133.3" r="2.75"/><circle cx="446.2" cy="138.9" r="2.75"/><circle cx="446.0" cy="153.0" r="2.75"/><circle cx="446.5" cy="140.6" r="2.75"/><circle cx="446.9" cy="156.0" r="2.75"/><circle cx="447.0" cy="139.4" r="2.75"/><circle cx="447.0" cy="137.8" r="2.75"/><circle cx="447.3" cy="155.6" r="2.75"/><circle cx="447.5" cy="132.8" r="2.75"/><circle cx="447.5" cy="136.2" r="2.75"/><circle cx="447.8" cy="136.4" r="2.75"/><circle cx="448.3" cy="133.4" r="2.75"/><circle cx="448.3" cy="150.9" r="2.75"/><circle cx="448.2" cy="161.5" r="2.75"/><circle cx="448.7" cy="153.5" r="2.75"/><circle cx="448.7" cy="166.9" r="2.75"/><circle cx="449.1" cy="130.7" r="2.75"/><circle cx="449.4" cy="151.2" r="2.75"/><circle cx="449.3" cy="169.1" r="2.75"/><circle cx="449.5" cy="128.2" r="2.75"/><circle cx="449.9" cy="161.7" r="2.75"/><circle cx="450.1" cy="151.9" r="2.75"/><circle cx="450.4" cy="167.4" r="2.75"/><circle cx="450.3" cy="158.9" r="2.75"/><circle cx="450.8" cy="141.7" r="2.75"/><circle cx="450.8" cy="147.7" r="2.75"/><circle cx="450.9" cy="132.7" r="2.75"/><circle cx="451.1" cy="145.6" r="2.75"/><circle cx="451.4" cy="163.2" r="2.75"/><circle cx="451.6" cy="126.2" r="2.75"/><circle cx="452.1" cy="155.5" r="2.75"/><circle cx="451.9" cy="165.3" r="2.75"/><circle cx="452.3" cy="127.1" r="2.75"/><circle cx="452.5" cy="157.4" r="2.75"/><circle cx="452.7" cy="140.7" r="2.75"/><circle cx="453.1" cy="154.8" r="2.75"/><circle cx="453.0" cy="167.6" r="2.75"/><circle cx="453.2" cy="165.6" r="2.75"/><circle cx="457.4" cy="184.7" r="2.75"/><circle cx="458.1" cy="181.7" r="2.75"/><circle cx="458.2" cy="175.0" r="2.75"/><circle cx="458.3" cy="180.8" r="2.75"/><circle cx="458.7" cy="187.4" r="2.75"/><circle cx="458.9" cy="182.3" r="2.75"/><circle cx="459.0" cy="178.6" r="2.75"/><circle cx="459.5" cy="161.1" r="2.75"/><circle cx="459.2" cy="154.8" r="2.75"/><circle cx="459.9" cy="157.5" r="2.75"/><circle cx="459.7" cy="147.4" r="2.75"/><circle cx="459.9" cy="189.8" r="2.75"/><circle cx="460.6" cy="186.4" r="2.75"/><circle cx="460.8" cy="147.8" r="2.75"/><circle cx="460.9" cy="150.9" r="2.75"/><circle cx="461.3" cy="180.6" r="2.75"/><circle cx="461.6" cy="153.5" r="2.75"/><circle cx="461.5" cy="161.4" r="2.75"/><circle cx="461.9" cy="156.9" r="2.75"/><circle cx="462.0" cy="181.6" r="2.75"/><circle cx="462.1" cy="173.7" r="2.75"/><circle cx="462.2" cy="153.6" r="2.75"/><circle cx="462.7" cy="169.0" r="2.75"/><circle cx="463.0" cy="147.8" r="2.75"/><circle cx="463.4" cy="160.1" r="2.75"/><circle cx="463.4" cy="166.1" r="2.75"/><circle cx="463.6" cy="177.3" r="2.75"/><circle cx="464.1" cy="184.3" r="2.75"/><circle cx="463.8" cy="172.2" r="2.75"/><circle cx="464.2" cy="144.8" r="2.75"/><circle cx="464.9" cy="154.3" r="2.75"/><circle cx="464.8" cy="177.5" r="2.75"/><circle cx="465.1" cy="154.8" r="2.75"/><circle cx="465.3" cy="162.9" r="2.75"/><circle cx="465.6" cy="146.5" r="2.75"/><circle cx="465.5" cy="169.0" r="2.75"/><circle cx="465.7" cy="159.1" r="2.75"/><circle cx="466.2" cy="165.8" r="2.75"/><circle cx="472.6" cy="159.3" r="2.75"/><circle cx="472.9" cy="156.2" r="2.75"/><circle cx="473.4" cy="169.9" r="2.75"/><circle cx="473.3" cy="145.6" r="2.75"/><circle cx="473.4" cy="146.6" r="2.75"/><circle cx="473.6" cy="139.5" r="2.75"/><circle cx="474.3" cy="163.8" r="2.75"/><circle cx="474.2" cy="181.4" r="2.75"/><circle cx="474.6" cy="154.2" r="2.75"/><circle cx="474.8" cy="183.3" r="2.75"/><circle cx="475.2" cy="164.3" r="2.75"/><circle cx="475.4" cy="175.7" r="2.75"/><circle cx="475.6" cy="142.2" r="2.75"/><circle cx="475.6" cy="156.5" r="2.75"/><circle cx="476.0" cy="169.9" r="2.75"/><circle cx="475.9" cy="141.3" r="2.75"/><circle cx="476.6" cy="184.1" r="2.75"/><circle cx="476.7" cy="155.3" r="2.75"/><circle cx="476.6" cy="140.5" r="2.75"/><circle cx="477.3" cy="154.3" r="2.75"/><circle cx="477.1" cy="157.5" r="2.75"/><circle cx="477.3" cy="141.2" r="2.75"/><circle cx="477.9" cy="165.5" r="2.75"/><circle cx="477.8" cy="162.9" r="2.75"/><circle cx="478.1" cy="192.2" r="2.75"/><circle cx="478.2" cy="150.2" r="2.75"/><circle cx="478.6" cy="160.3" r="2.75"/><circle cx="478.8" cy="156.1" r="2.75"/><circle cx="479.4" cy="165.9" r="2.75"/><circle cx="479.6" cy="184.0" r="2.75"/><circle cx="479.4" cy="156.8" r="2.75"/><circle cx="480.0" cy="172.0" r="2.75"/><circle cx="480.0" cy="166.0" r="2.75"/><circle cx="480.4" cy="169.2" r="2.75"/><circle cx="480.4" cy="165.6" r="2.75"/><circle cx="480.9" cy="173.6" r="2.75"/><circle cx="481.2" cy="164.1" r="2.75"/><circle cx="481.4" cy="172.6" r="2.75"/><circle cx="481.4" cy="175.9" r="2.75"/><circle cx="481.7" cy="159.7" r="2.75"/><circle cx="482.0" cy="145.9" r="2.75"/><circle cx="482.0" cy="153.1" r="2.75"/><circle cx="482.3" cy="141.1" r="2.75"/><circle cx="482.4" cy="190.7" r="2.75"/><circle cx="482.7" cy="163.6" r="2.75"/><circle cx="482.8" cy="174.1" r="2.75"/><circle cx="483.6" cy="170.5" r="2.75"/><circle cx="483.3" cy="175.9" r="2.75"/><circle cx="483.8" cy="168.1" r="2.75"/><circle cx="483.9" cy="181.3" r="2.75"/><circle cx="484.2" cy="181.0" r="2.75"/><circle cx="484.5" cy="149.2" r="2.75"/><circle cx="484.5" cy="179.6" r="2.75"/><circle cx="484.8" cy="149.2" r="2.75"/><circle cx="485.1" cy="180.7" r="2.75"/><circle cx="485.5" cy="142.9" r="2.75"/><circle cx="485.7" cy="191.9" r="2.75"/><circle cx="485.9" cy="201.7" r="2.75"/><circle cx="485.9" cy="175.6" r="2.75"/><circle cx="486.1" cy="190.6" r="2.75"/><circle cx="486.6" cy="166.9" r="2.75"/><circle cx="486.8" cy="155.0" r="2.75"/><circle cx="487.2" cy="144.1" r="2.75"/><circle cx="487.2" cy="168.0" r="2.75"/><circle cx="502.7" cy="152.1" r="2.75"/><circle cx="502.5" cy="180.8" r="2.75"/><circle cx="502.9" cy="144.4" r="2.75"/><circle cx="502.9" cy="178.7" r="2.75"/><circle cx="503.0" cy="183.0" r="2.75"/><circle cx="503.4" cy="176.7" r="2.75"/><circle cx="503.3" cy="161.1" r="2.75"/><circle cx="503.7" cy="166.7" r="2.75"/><circle cx="503.7" cy="168.1" r="2.75"/><circle cx="503.9" cy="173.2" r="2.75"/><circle cx="504.4" cy="151.0" r="2.75"/><circle cx="504.1" cy="187.6" r="2.75"/><circle cx="504.4" cy="158.5" r="2.75"/><circle cx="504.5" cy="159.7" r="2.75"/><circle cx="504.8" cy="155.6" r="2.75"/><circle cx="505.1" cy="163.6" r="2.75"/><circle cx="505.2" cy="144.5" r="2.75"/><circle cx="505.5" cy="165.6" r="2.75"/><circle cx="505.3" cy="178.8" r="2.75"/><circle cx="505.3" cy="185.7" r="2.75"/><circle cx="505.5" cy="161.7" r="2.75"/><circle cx="506.0" cy="160.8" r="2.75"/><circle cx="506.2" cy="178.9" r="2.75"/><circle cx="505.8" cy="143.5" r="2.75"/><circle cx="506.3" cy="186.4" r="2.75"/><circle cx="506.7" cy="156.2" r="2.75"/><circle cx="506.5" cy="173.0" r="2.75"/><circle cx="506.7" cy="145.7" r="2.75"/><circle cx="506.9" cy="187.1" r="2.75"/><circle cx="507.0" cy="171.4" r="2.75"/><circle cx="507.1" cy="144.0" r="2.75"/><circle cx="507.1" cy="161.3" r="2.75"/><circle cx="507.7" cy="150.9" r="2.75"/><circle cx="507.6" cy="164.3" r="2.75"/><circle cx="507.6" cy="166.1" r="2.75"/><circle cx="507.6" cy="185.6" r="2.75"/><circle cx="508.0" cy="151.6" r="2.75"/><circle cx="508.4" cy="186.2" r="2.75"/><circle cx="508.3" cy="183.3" r="2.75"/><circle cx="508.3" cy="159.0" r="2.75"/><circle cx="508.4" cy="148.8" r="2.75"/><circle cx="508.8" cy="169.0" r="2.75"/><circle cx="508.9" cy="165.7" r="2.75"/><circle cx="509.3" cy="148.8" r="2.75"/><circle cx="509.1" cy="174.7" r="2.75"/><circle cx="509.5" cy="174.5" r="2.75"/><circle cx="509.3" cy="161.6" r="2.75"/><circle cx="509.4" cy="164.4" r="2.75"/><circle cx="509.6" cy="146.4" r="2.75"/><circle cx="509.7" cy="182.8" r="2.75"/><circle cx="510.2" cy="143.4" r="2.75"/><circle cx="510.3" cy="184.2" r="2.75"/><circle cx="510.7" cy="174.6" r="2.75"/><circle cx="510.7" cy="157.9" r="2.75"/><circle cx="510.9" cy="175.8" r="2.75"/><circle cx="510.9" cy="179.4" r="2.75"/><circle cx="510.9" cy="187.3" r="2.75"/><circle cx="511.4" cy="162.7" r="2.75"/><circle cx="511.3" cy="150.5" r="2.75"/><circle cx="511.6" cy="162.7" r="2.75"/><circle cx="511.8" cy="160.3" r="2.75"/><circle cx="512.0" cy="187.3" r="2.75"/><circle cx="511.9" cy="159.7" r="2.75"/><circle cx="511.9" cy="180.2" r="2.75"/><circle cx="512.4" cy="157.4" r="2.75"/><circle cx="516.6" cy="171.8" r="2.75"/><circle cx="516.9" cy="159.2" r="2.75"/><circle cx="516.9" cy="171.2" r="2.75"/><circle cx="517.4" cy="134.4" r="2.75"/><circle cx="517.2" cy="168.8" r="2.75"/><circle cx="517.5" cy="170.5" r="2.75"/><circle cx="517.4" cy="140.4" r="2.75"/><circle cx="517.9" cy="155.5" r="2.75"/><circle cx="517.8" cy="121.5" r="2.75"/><circle cx="518.2" cy="148.1" r="2.75"/><circle cx="518.2" cy="150.4" r="2.75"/><circle cx="518.5" cy="181.7" r="2.75"/><circle cx="518.8" cy="155.6" r="2.75"/><circle cx="519.1" cy="183.7" r="2.75"/><circle cx="519.0" cy="176.9" r="2.75"/><circle cx="519.1" cy="149.3" r="2.75"/><circle cx="519.1" cy="139.7" r="2.75"/><circle cx="519.3" cy="135.5" r="2.75"/><circle cx="519.8" cy="125.7" r="2.75"/><circle cx="519.7" cy="120.9" r="2.75"/><circle cx="519.8" cy="181.8" r="2.75"/><circle cx="520.0" cy="145.5" r="2.75"/><circle cx="520.1" cy="167.5" r="2.75"/><circle cx="520.4" cy="131.2" r="2.75"/><circle cx="520.7" cy="168.1" r="2.75"/><circle cx="520.8" cy="139.0" r="2.75"/><circle cx="521.1" cy="138.9" r="2.75"/><circle cx="520.9" cy="180.4" r="2.75"/><circle cx="521.4" cy="159.3" r="2.75"/><circle cx="521.5" cy="144.6" r="2.75"/><circle cx="521.6" cy="157.5" r="2.75"/><circle cx="521.7" cy="146.9" r="2.75"/><circle cx="522.2" cy="170.8" r="2.75"/><circle cx="522.4" cy="146.1" r="2.75"/><circle cx="522.6" cy="148.8" r="2.75"/><circle cx="522.7" cy="156.6" r="2.75"/><circle cx="522.6" cy="148.0" r="2.75"/><circle cx="522.7" cy="157.3" r="2.75"/><circle cx="522.8" cy="130.1" r="2.75"/><circle cx="523.3" cy="169.0" r="2.75"/><circle cx="523.6" cy="130.2" r="2.75"/><circle cx="523.3" cy="162.6" r="2.75"/><circle cx="523.6" cy="170.1" r="2.75"/><circle cx="523.7" cy="159.8" r="2.75"/><circle cx="524.0" cy="167.7" r="2.75"/><circle cx="524.1" cy="140.9" r="2.75"/><circle cx="524.3" cy="176.4" r="2.75"/><circle cx="524.7" cy="163.9" r="2.75"/><circle cx="524.5" cy="123.1" r="2.75"/><circle cx="524.5" cy="166.4" r="2.75"/><circle cx="525.3" cy="152.2" r="2.75"/><circle cx="525.4" cy="164.7" r="2.75"/><circle cx="525.6" cy="161.4" r="2.75"/><circle cx="525.6" cy="169.5" r="2.75"/><circle cx="525.6" cy="139.0" r="2.75"/><circle cx="525.6" cy="129.0" r="2.75"/><circle cx="526.0" cy="147.8" r="2.75"/><circle cx="526.3" cy="155.4" r="2.75"/><circle cx="526.5" cy="115.8" r="2.75"/><circle cx="526.3" cy="115.2" r="2.75"/><circle cx="526.7" cy="164.8" r="2.75"/><circle cx="526.9" cy="171.5" r="2.75"/><circle cx="527.2" cy="179.1" r="2.75"/><circle cx="527.1" cy="137.7" r="2.75"/><circle cx="527.6" cy="116.4" r="2.75"/><circle cx="527.4" cy="139.2" r="2.75"/><circle cx="527.6" cy="145.6" r="2.75"/><circle cx="528.0" cy="139.6" r="2.75"/><circle cx="528.0" cy="154.0" r="2.75"/><circle cx="528.4" cy="156.7" r="2.75"/><circle cx="528.4" cy="153.9" r="2.75"/><circle cx="528.6" cy="141.3" r="2.75"/><circle cx="528.9" cy="131.5" r="2.75"/><circle cx="528.6" cy="140.3" r="2.75"/><circle cx="529.3" cy="137.5" r="2.75"/><circle cx="528.9" cy="155.9" r="2.75"/><circle cx="529.6" cy="145.5" r="2.75"/><circle cx="529.7" cy="171.8" r="2.75"/><circle cx="529.7" cy="135.9" r="2.75"/><circle cx="529.7" cy="142.3" r="2.75"/><circle cx="530.2" cy="153.8" r="2.75"/><circle cx="530.4" cy="145.3" r="2.75"/><circle cx="530.6" cy="139.0" r="2.75"/><circle cx="530.5" cy="162.6" r="2.75"/><circle cx="530.8" cy="139.2" r="2.75"/><circle cx="530.8" cy="150.0" r="2.75"/><circle cx="530.9" cy="144.9" r="2.75"/><circle cx="530.9" cy="148.5" r="2.75"/><circle cx="531.2" cy="114.8" r="2.75"/><circle cx="531.8" cy="137.4" r="2.75"/><circle cx="531.6" cy="124.0" r="2.75"/><circle cx="532.1" cy="135.1" r="2.75"/><circle cx="531.9" cy="140.2" r="2.75"/><circle cx="532.3" cy="161.3" r="2.75"/><circle cx="532.5" cy="143.6" r="2.75"/><circle cx="532.3" cy="125.3" r="2.75"/><circle cx="532.9" cy="144.5" r="2.75"/><circle cx="533.1" cy="159.6" r="2.75"/><circle cx="533.1" cy="153.4" r="2.75"/><circle cx="533.0" cy="144.3" r="2.75"/><circle cx="533.2" cy="122.6" r="2.75"/><circle cx="533.3" cy="141.7" r="2.75"/><circle cx="533.4" cy="160.6" r="2.75"/><circle cx="533.7" cy="150.0" r="2.75"/><circle cx="533.7" cy="153.4" r="2.75"/><circle cx="534.4" cy="159.0" r="2.75"/><circle cx="534.2" cy="158.8" r="2.75"/><circle cx="534.7" cy="141.5" r="2.75"/><circle cx="534.6" cy="136.8" r="2.75"/><circle cx="535.0" cy="148.8" r="2.75"/><circle cx="534.7" cy="142.8" r="2.75"/><circle cx="535.1" cy="165.2" r="2.75"/><circle cx="535.5" cy="126.4" r="2.75"/><circle cx="535.6" cy="150.6" r="2.75"/><circle cx="535.5" cy="124.5" r="2.75"/><circle cx="535.9" cy="129.9" r="2.75"/><circle cx="536.1" cy="156.3" r="2.75"/><circle cx="536.0" cy="121.3" r="2.75"/><circle cx="536.5" cy="148.6" r="2.75"/><circle cx="536.7" cy="122.7" r="2.75"/><circle cx="536.9" cy="148.3" r="2.75"/><circle cx="536.8" cy="148.7" r="2.75"/><circle cx="537.3" cy="136.1" r="2.75"/><circle cx="537.4" cy="155.0" r="2.75"/><circle cx="537.5" cy="150.2" r="2.75"/><circle cx="537.2" cy="170.8" r="2.75"/><circle cx="537.5" cy="116.1" r="2.75"/><circle cx="537.8" cy="144.8" r="2.75"/><circle cx="537.9" cy="136.1" r="2.75"/><circle cx="538.4" cy="157.8" r="2.75"/><circle cx="538.5" cy="134.3" r="2.75"/><circle cx="538.3" cy="118.8" r="2.75"/><circle cx="538.8" cy="139.6" r="2.75"/><circle cx="539.0" cy="144.9" r="2.75"/><circle cx="539.2" cy="168.6" r="2.75"/><circle cx="539.0" cy="116.7" r="2.75"/><circle cx="539.1" cy="156.3" r="2.75"/><circle cx="539.6" cy="120.3" r="2.75"/><circle cx="539.4" cy="147.3" r="2.75"/><circle cx="539.9" cy="146.8" r="2.75"/><circle cx="540.0" cy="137.5" r="2.75"/><circle cx="540.1" cy="139.3" r="2.75"/><circle cx="540.5" cy="139.2" r="2.75"/><circle cx="540.2" cy="150.7" r="2.75"/><circle cx="540.6" cy="139.4" r="2.75"/><circle cx="541.0" cy="144.9" r="2.75"/><circle cx="540.8" cy="135.7" r="2.75"/><circle cx="541.3" cy="130.3" r="2.75"/><circle cx="541.0" cy="154.4" r="2.75"/><circle cx="541.5" cy="146.0" r="2.75"/><circle cx="541.8" cy="157.0" r="2.75"/><circle cx="541.5" cy="128.6" r="2.75"/><circle cx="541.9" cy="164.9" r="2.75"/><circle cx="542.0" cy="169.6" r="2.75"/><circle cx="542.1" cy="127.7" r="2.75"/><circle cx="542.7" cy="117.5" r="2.75"/><circle cx="542.6" cy="149.6" r="2.75"/><circle cx="542.9" cy="124.0" r="2.75"/><circle cx="542.8" cy="119.7" r="2.75"/><circle cx="543.2" cy="129.4" r="2.75"/><circle cx="543.6" cy="164.8" r="2.75"/><circle cx="543.7" cy="168.1" r="2.75"/><circle cx="543.8" cy="132.4" r="2.75"/><circle cx="544.1" cy="122.7" r="2.75"/><circle cx="544.3" cy="119.3" r="2.75"/><circle cx="544.1" cy="136.3" r="2.75"/><circle cx="544.1" cy="118.4" r="2.75"/><circle cx="544.5" cy="143.4" r="2.75"/><circle cx="544.8" cy="134.0" r="2.75"/><circle cx="544.6" cy="165.0" r="2.75"/><circle cx="545.2" cy="120.2" r="2.75"/><circle cx="545.4" cy="121.3" r="2.75"/><circle cx="545.6" cy="125.9" r="2.75"/><circle cx="545.6" cy="154.7" r="2.75"/><circle cx="545.5" cy="134.4" r="2.75"/><circle cx="545.5" cy="125.0" r="2.75"/><circle cx="546.0" cy="122.8" r="2.75"/><circle cx="546.0" cy="151.4" r="2.75"/><circle cx="546.0" cy="132.7" r="2.75"/><circle cx="546.3" cy="154.1" r="2.75"/><circle cx="546.7" cy="128.8" r="2.75"/><circle cx="547.0" cy="144.5" r="2.75"/><circle cx="546.7" cy="152.4" r="2.75"/><circle cx="547.0" cy="141.0" r="2.75"/><circle cx="547.5" cy="146.9" r="2.75"/><circle cx="547.6" cy="139.1" r="2.75"/><circle cx="547.9" cy="126.0" r="2.75"/><circle cx="547.9" cy="137.9" r="2.75"/><circle cx="548.2" cy="152.1" r="2.75"/><circle cx="548.1" cy="138.7" r="2.75"/><circle cx="548.5" cy="133.1" r="2.75"/><circle cx="548.8" cy="143.3" r="2.75"/><circle cx="548.8" cy="121.1" r="2.75"/><circle cx="548.7" cy="145.9" r="2.75"/><circle cx="549.1" cy="120.2" r="2.75"/><circle cx="549.1" cy="129.7" r="2.75"/><circle cx="549.2" cy="165.3" r="2.75"/><circle cx="549.5" cy="136.9" r="2.75"/><circle cx="549.4" cy="142.3" r="2.75"/><circle cx="549.9" cy="126.1" r="2.75"/><circle cx="549.8" cy="146.5" r="2.75"/><circle cx="550.2" cy="132.0" r="2.75"/><circle cx="550.3" cy="153.1" r="2.75"/><circle cx="550.4" cy="169.8" r="2.75"/><circle cx="550.6" cy="158.2" r="2.75"/><circle cx="550.6" cy="148.7" r="2.75"/><circle cx="551.1" cy="147.1" r="2.75"/><circle cx="551.1" cy="147.0" r="2.75"/><circle cx="551.6" cy="153.6" r="2.75"/><circle cx="551.5" cy="151.9" r="2.75"/><circle cx="551.6" cy="148.3" r="2.75"/><circle cx="552.0" cy="141.3" r="2.75"/><circle cx="552.2" cy="162.0" r="2.75"/><circle cx="552.3" cy="143.5" r="2.75"/><circle cx="552.1" cy="140.7" r="2.75"/><circle cx="552.4" cy="143.9" r="2.75"/><circle cx="552.9" cy="151.4" r="2.75"/><circle cx="552.9" cy="126.0" r="2.75"/><circle cx="553.3" cy="121.3" r="2.75"/><circle cx="553.4" cy="159.9" r="2.75"/><circle cx="553.4" cy="144.9" r="2.75"/><circle cx="553.5" cy="145.5" r="2.75"/><circle cx="553.8" cy="164.7" r="2.75"/><circle cx="554.1" cy="135.8" r="2.75"/><circle cx="553.7" cy="152.6" r="2.75"/><circle cx="554.4" cy="154.3" r="2.75"/><circle cx="554.5" cy="146.8" r="2.75"/><circle cx="512.6" cy="175.4" r="2.75"/><circle cx="512.8" cy="166.5" r="2.75"/><circle cx="512.9" cy="172.9" r="2.75"/><circle cx="513.0" cy="167.4" r="2.75"/><circle cx="513.1" cy="160.6" r="2.75"/><circle cx="513.6" cy="173.2" r="2.75"/><circle cx="513.5" cy="171.7" r="2.75"/><circle cx="513.6" cy="174.1" r="2.75"/><circle cx="513.6" cy="163.2" r="2.75"/><circle cx="513.9" cy="160.8" r="2.75"/><circle cx="514.0" cy="180.2" r="2.75"/><circle cx="514.5" cy="173.5" r="2.75"/><circle cx="514.5" cy="180.7" r="2.75"/><circle cx="514.9" cy="164.1" r="2.75"/><circle cx="515.0" cy="170.6" r="2.75"/><circle cx="514.7" cy="171.8" r="2.75"/><circle cx="515.0" cy="177.6" r="2.75"/><circle cx="515.0" cy="184.1" r="2.75"/><circle cx="515.3" cy="166.6" r="2.75"/><circle cx="123.4" cy="124.4" r="2.75"/><circle cx="176.3" cy="124.4" r="2.75"/><circle cx="186.4" cy="124.4" r="2.75"/><circle cx="133.5" cy="133.4" r="2.75"/><circle cx="125.6" cy="138.4" r="2.75"/><circle cx="182.3" cy="143.5" r="2.75"/><circle cx="186.6" cy="146.3" r="2.75"/><circle cx="181.3" cy="151.2" r="2.75"/><circle cx="117.6" cy="162.3" r="2.75"/><circle cx="170.3" cy="166.0" r="2.75"/><circle cx="150.4" cy="170.3" r="2.75"/><circle cx="153.2" cy="175.4" r="2.75"/><circle cx="238.4" cy="126.2" r="2.75"/><circle cx="227.5" cy="147.0" r="2.75"/><circle cx="234.7" cy="136.0" r="2.75"/><circle cx="252.5" cy="145.4" r="2.75"/><circle cx="256.2" cy="157.2" r="2.75"/><circle cx="253.4" cy="170.3" r="2.75"/><circle cx="285.5" cy="129.2" r="2.75"/><circle cx="284.5" cy="138.2" r="2.75"/><circle cx="285.5" cy="143.8" r="2.75"/><circle cx="285.5" cy="148.8" r="2.75"/><circle cx="280.0" cy="157.0" r="2.75"/><circle cx="286.2" cy="156.2" r="2.75"/><circle cx="287.5" cy="163.8" r="2.75"/><circle cx="283.8" cy="166.2" r="2.75"/><circle cx="286.2" cy="172.5" r="2.75"/><circle cx="281.2" cy="177.0" r="2.75"/><circle cx="242.5" cy="132.0" r="2.75"/><circle cx="245.0" cy="137.5" r="2.75"/><circle cx="237.5" cy="142.5" r="2.75"/><circle cx="245.0" cy="142.5" r="2.75"/><circle cx="237.5" cy="148.8" r="2.75"/><circle cx="246.0" cy="150.0" r="2.75"/><circle cx="308.4" cy="117.4" r="2.75"/><circle cx="303.5" cy="128.5" r="2.75"/><circle cx="361.6" cy="108.4" r="2.75"/><circle cx="351.6" cy="120.0" r="2.75"/><circle cx="364.4" cy="125.0" r="2.75"/><circle cx="375.2" cy="126.0" r="2.75"/><circle cx="346.6" cy="128.4" r="2.75"/><circle cx="340.6" cy="130.9" r="2.75"/><circle cx="357.0" cy="127.5" r="2.75"/><circle cx="360.0" cy="129.8" r="2.75"/><circle cx="337.6" cy="136.0" r="2.75"/><circle cx="403.8" cy="124.7" r="2.75"/><circle cx="404.5" cy="125.0" r="2.75"/><circle cx="410.3" cy="133.5" r="2.75"/><circle cx="393.4" cy="136.9" r="2.75"/><circle cx="193.5" cy="240.4" r="2.75"/><circle cx="198.4" cy="246.2" r="2.75"/><circle cx="146.2" cy="227.0" r="2.75"/><circle cx="146.2" cy="232.5" r="2.75"/><circle cx="123.8" cy="213.4" r="2.75"/><circle cx="230.4" cy="228.4" r="2.75"/><circle cx="255.3" cy="262.1" r="2.75"/><circle cx="260.4" cy="254.4" r="2.75"/><circle cx="267.5" cy="252.2" r="2.75"/><circle cx="250.2" cy="235.9" r="2.75"/><circle cx="200.0" cy="246.0" r="2.75"/><circle cx="297.5" cy="206.2" r="2.75"/><circle cx="305.4" cy="205.0" r="2.75"/><circle cx="305.4" cy="214.3" r="2.75"/><circle cx="318.4" cy="220.2" r="2.75"/><circle cx="326.5" cy="216.0" r="2.75"/><circle cx="348.4" cy="202.2" r="2.75"/><circle cx="349.4" cy="211.2" r="2.75"/><circle cx="345.2" cy="220.2" r="2.75"/><circle cx="362.5" cy="216.0" r="2.75"/><circle cx="367.2" cy="221.0" r="2.75"/><circle cx="371.0" cy="218.8" r="2.75"/><circle cx="373.8" cy="214.0" r="2.75"/><circle cx="379.4" cy="221.0" r="2.75"/><circle cx="381.2" cy="225.3" r="2.75"/><circle cx="384.4" cy="231.3" r="2.75"/><circle cx="384.4" cy="236.2" r="2.75"/><circle cx="385.0" cy="217.0" r="2.75"/><circle cx="403.4" cy="215.4" r="2.75"/><circle cx="394.4" cy="201.3" r="2.75"/><circle cx="407.5" cy="201.3" r="2.75"/><circle cx="459.4" cy="74.2" r="2.75"/><circle cx="447.4" cy="105.2" r="2.75"/><circle cx="450.6" cy="110.2" r="2.75"/><circle cx="464.3" cy="106.1" r="2.75"/><circle cx="463.4" cy="113.4" r="2.75"/><circle cx="461.9" cy="117.2" r="2.75"/><circle cx="464.3" cy="116.2" r="2.75"/><circle cx="463.4" cy="125.2" r="2.75"/><circle cx="475.4" cy="100.3" r="2.75"/><circle cx="485.3" cy="106.1" r="2.75"/><circle cx="478.4" cy="114.4" r="2.75"/><circle cx="477.2" cy="118.5" r="2.75"/><circle cx="475.4" cy="126.2" r="2.75"/><circle cx="483.4" cy="130.3" r="2.75"/><circle cx="474.0" cy="134.0" r="2.75"/><circle cx="505.4" cy="126.2" r="2.75"/><circle cx="519.0" cy="116.0" r="2.75"/><circle cx="521.9" cy="112.0" r="2.75"/><circle cx="532.2" cy="100.3" r="2.75"/><circle cx="544.4" cy="89.4" r="2.75"/><circle cx="542.5" cy="93.4" r="2.75"/><circle cx="542.5" cy="97.7" r="2.75"/><circle cx="543.3" cy="109.0" r="2.75"/><circle cx="550.3" cy="112.2" r="2.75"/><circle cx="553.4" cy="128.6" r="2.75"/><circle cx="553.8" cy="138.8" r="2.75"/><circle cx="453.4" cy="174.3" r="2.75"/><circle cx="457.6" cy="201.9" r="2.75"/><circle cx="462.2" cy="194.4" r="2.75"/><circle cx="458.0" cy="188.4" r="2.75"/><circle cx="459.0" cy="180.3" r="2.75"/><circle cx="461.9" cy="178.4" r="2.75"/><circle cx="478.4" cy="203.4" r="2.75"/><circle cx="485.9" cy="201.5" r="2.75"/><circle cx="483.8" cy="208.4" r="2.75"/><circle cx="484.9" cy="212.2" r="2.75"/><circle cx="485.3" cy="215.6" r="2.75"/><circle cx="486.2" cy="226.2" r="2.75"/><circle cx="486.0" cy="243.5" r="2.75"/><circle cx="507.4" cy="188.4" r="2.75"/><circle cx="510.2" cy="199.4" r="2.75"/><circle cx="514.4" cy="202.2" r="2.75"/><circle cx="525.6" cy="177.5" r="2.75"/><circle cx="530.3" cy="177.5" r="2.75"/><circle cx="535.0" cy="185.0" r="2.75"/><circle cx="534.1" cy="190.6" r="2.75"/><circle cx="536.0" cy="194.4" r="2.75"/><circle cx="529.4" cy="199.4" r="2.75"/><circle cx="539.3" cy="201.0" r="2.75"/><circle cx="544.4" cy="186.9" r="2.75"/><circle cx="542.5" cy="191.6" r="2.75"/><circle cx="540.6" cy="196.2" r="2.75"/><circle cx="547.3" cy="188.0" r="2.75"/><circle cx="548.3" cy="181.4" r="2.75"/><circle cx="540.2" cy="181.4" r="2.75"/><circle cx="542.1" cy="227.2" r="2.75"/><circle cx="254.5" cy="410.4" r="2.75"/><circle cx="260.2" cy="244.5" r="2.75"/><circle cx="258.6" cy="242.2" r="2.75"/><circle cx="261.0" cy="240.0" r="2.75"/><circle cx="267.2" cy="241.4" r="2.75"/><circle cx="277.3" cy="240.6" r="2.75"/><circle cx="276.5" cy="236.0" r="2.75"/><circle cx="278.0" cy="232.0" r="2.75"/><circle cx="220.3" cy="240.6" r="2.75"/><circle cx="218.5" cy="239.5" r="2.75"/><circle cx="219.5" cy="234.5" r="2.75"/><circle cx="207.0" cy="235.2" r="2.75"/></g>
<rect x="80.5" y="58.5" width="496" height="369" fill="none" class="ax"/>
<line x1="75" x2="80.5" y1="66.5" y2="66.5" class="ax"/><text x="70" y="71.6" text-anchor="end" class="tl" style="letter-spacing:-0.3px">0.03</text><line x1="75" x2="80.5" y1="116.5" y2="116.5" class="ax"/><text x="70" y="121.3" text-anchor="end" class="tl" style="letter-spacing:-0.3px">0.02</text><line x1="75" x2="80.5" y1="166.5" y2="166.5" class="ax"/><text x="70" y="171.0" text-anchor="end" class="tl" style="letter-spacing:-0.3px">0.01</text><line x1="75" x2="80.5" y1="215.5" y2="215.5" class="ax"/><text x="70" y="220.7" text-anchor="end" class="tl" style="letter-spacing:-0.3px">0.00</text><line x1="75" x2="80.5" y1="265.5" y2="265.5" class="ax"/><text x="70" y="270.4" text-anchor="end" class="tl" style="letter-spacing:-0.3px">−0.01</text><line x1="75" x2="80.5" y1="315.5" y2="315.5" class="ax"/><text x="70" y="320.1" text-anchor="end" class="tl" style="letter-spacing:-0.3px">−0.02</text><line x1="75" x2="80.5" y1="364.5" y2="364.5" class="ax"/><text x="70" y="369.8" text-anchor="end" class="tl" style="letter-spacing:-0.3px">−0.03</text><line x1="75" x2="80.5" y1="414.5" y2="414.5" class="ax"/><text x="70" y="419.5" text-anchor="end" class="tl" style="letter-spacing:-0.3px">−0.04</text><line x1="131.5" x2="131.5" y1="427.5" y2="432.5" class="ax"/><text x="131.8" y="448.3" text-anchor="middle" class="tl" style="letter-spacing:-0.1px">2012</text><line x1="188.5" x2="188.5" y1="427.5" y2="432.5" class="ax"/><text x="188.8" y="448.3" text-anchor="middle" class="tl" style="letter-spacing:-0.1px">2013</text><line x1="245.5" x2="245.5" y1="427.5" y2="432.5" class="ax"/><text x="245.8" y="448.3" text-anchor="middle" class="tl" style="letter-spacing:-0.1px">2014</text><line x1="301.5" x2="301.5" y1="427.5" y2="432.5" class="ax"/><text x="301.8" y="448.3" text-anchor="middle" class="tl" style="letter-spacing:-0.1px">2015</text><line x1="358.5" x2="358.5" y1="427.5" y2="432.5" class="ax"/><text x="358.8" y="448.3" text-anchor="middle" class="tl" style="letter-spacing:-0.1px">2016</text><line x1="415.5" x2="415.5" y1="427.5" y2="432.5" class="ax"/><text x="415.8" y="448.3" text-anchor="middle" class="tl" style="letter-spacing:-0.1px">2017</text><line x1="472.5" x2="472.5" y1="427.5" y2="432.5" class="ax"/><text x="472.8" y="448.3" text-anchor="middle" class="tl" style="letter-spacing:-0.1px">2018</text><line x1="528.5" x2="528.5" y1="427.5" y2="432.5" class="ax"/><text x="528.8" y="448.3" text-anchor="middle" class="tl" style="letter-spacing:-0.1px">2019</text>
<text x="328" y="49.2" text-anchor="middle" style="font-size:16.67px">MFKG V</text>
<text transform="translate(19.5,244.5) rotate(-90)" text-anchor="middle" class="tl">m</text>
<rect x="87.5" y="65.5" width="192" height="24.5" rx="2.5" ry="2.5" fill="#fff" fill-opacity="0.8" stroke="#dadada" stroke-width="1"/>
<circle cx="106.5" cy="76.7" r="2.75" fill="#ff0000"/>
<text x="135.2" y="81" class="tl" style="letter-spacing:0.06px">repro2018a (IGS14)</text>
</svg>
</body></html>
